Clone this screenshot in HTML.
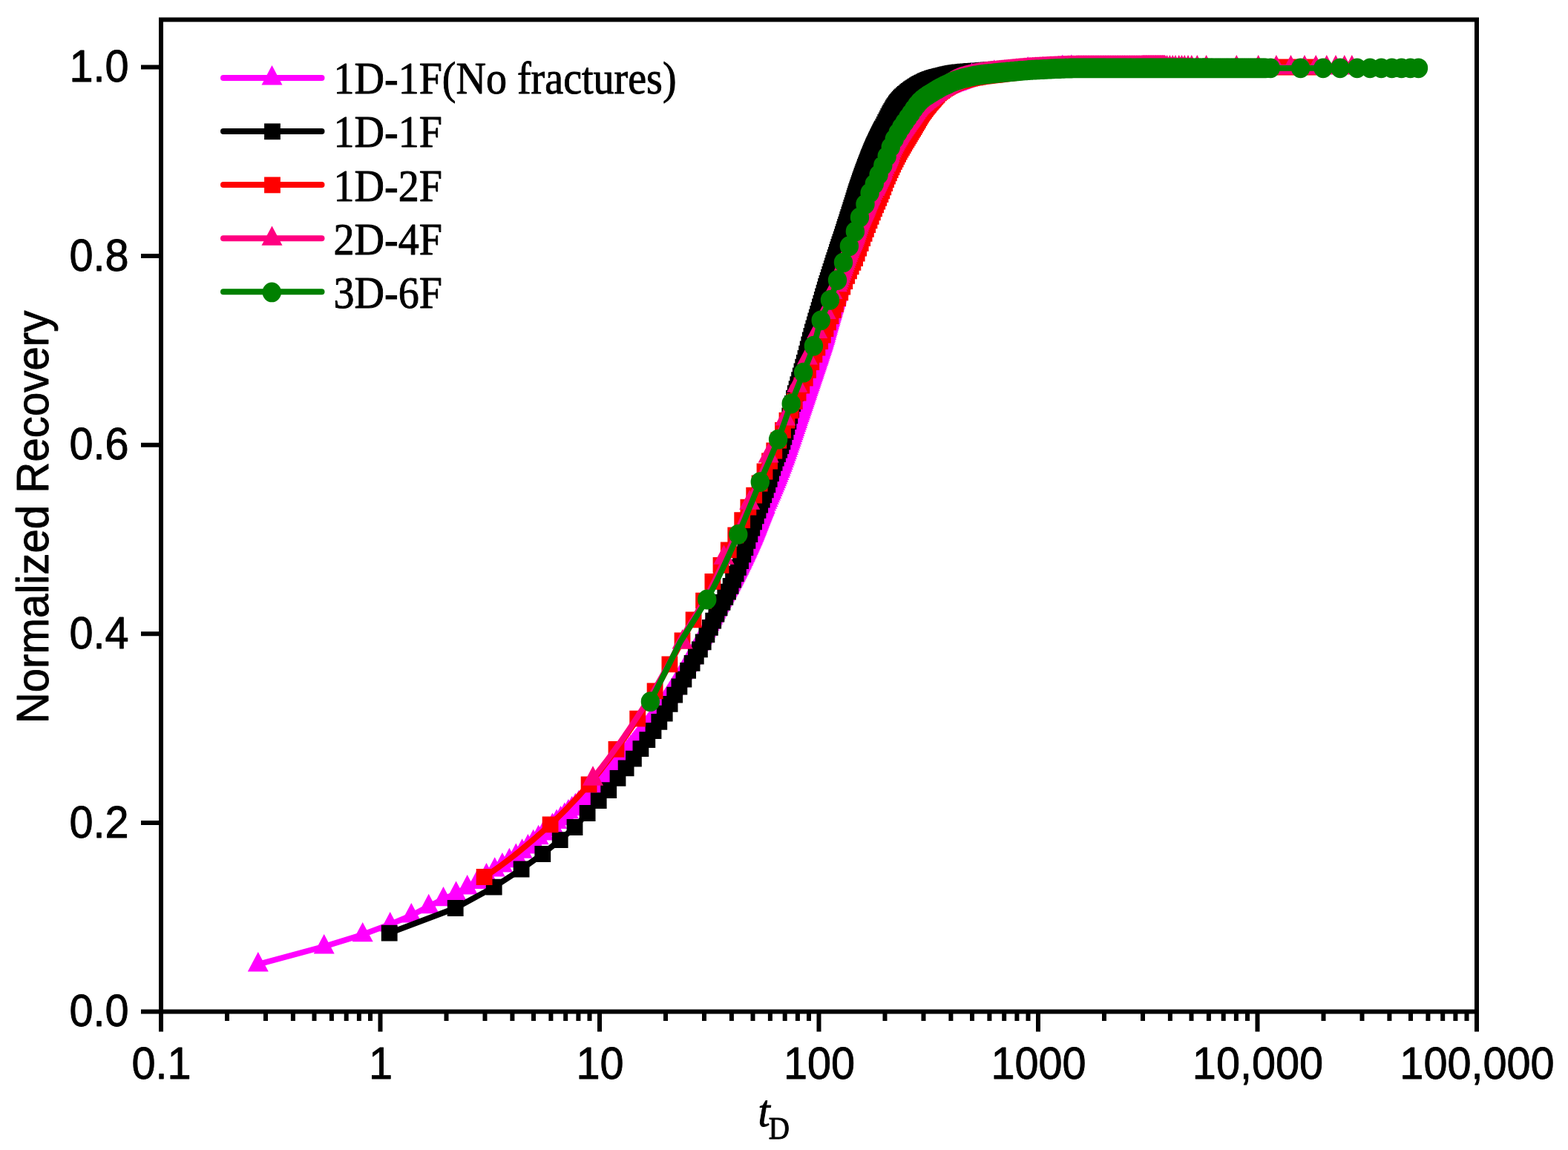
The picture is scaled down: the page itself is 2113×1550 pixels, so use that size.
<!DOCTYPE html>
<html><head><meta charset="utf-8"><title>Normalized Recovery vs tD</title>
<style>
html,body{margin:0;padding:0;background:#fff;}
svg{display:block}
.a{font-family:"Liberation Sans",sans-serif;font-size:61px;fill:#000;stroke:#000;stroke-width:0.9px;stroke-linejoin:round}
.s{font-family:"Liberation Serif",serif;font-size:62px;fill:#000;stroke:#000;stroke-width:1px;stroke-linejoin:round}
</style></head>
<body>
<svg width="2113" height="1550" viewBox="0 0 2113 1550" role="img" aria-label="Normalized Recovery versus dimensionless time tD">
<rect width="2113" height="1550" fill="#fff"/>
<g id="data">
<path d="M347.8 1299.8 436.7 1275.8 488.7 1259.7 525.7 1245.8 554.3 1233.9 577.7 1221.6 597.5 1211.7 614.6 1204.2 629.7 1195.8 643.3 1188.5 655.5 1179.7 666.7 1172 676.9 1165.9 686.4 1159.6 695.3 1153.4 703.6 1147.1 711.4 1140.8 718.7 1134.6 725.6 1128.6 732.2 1122.9 738.5 1117.4 744.4 1112.3 750.1 1107.4 755.6 1102.7 760.8 1098.2 765.9 1093.8 770.7 1089.6 775.4 1085.5 779.9 1081.5 784.2 1077.6 788.5 1073.7 792.5 1069.9 796.5 1066.2 800.3 1062.5 804 1058.8 807.6 1055.2 811.2 1051.5 814.6 1047.9 817.9 1044.4 821.2 1040.8 824.3 1037.3 827.4 1033.8 830.4 1030.3 833.4 1026.9 836.3 1023.5 839.1 1020.2 841.9 1016.8 844.6 1013.6 847.2 1010.3 849.8 1007.1 852.3 1004 854.8 1000.9 857.3 997.8 859.7 994.8 862 991.8 864.3 988.8 866.6 985.9 868.8 983 871 980.1 873.2 977.2 875.3 974.4 877.4 971.6 879.5 968.7 881.5 965.9 883.5 963.2 885.4 960.4 887.4 957.6 889.3 954.9 891.1 952.1 893 949.4 894.8 946.7 896.6 944 898.4 941.2 900.1 938.5 901.8 935.8 903.5 933.1 905.2 930.4 906.9 927.7 908.5 925 910.1 922.3 911.7 919.7 913.3 917 914.8 914.4 916.4 911.7 917.9 909.1 919.4 906.5 920.9 903.9 922.3 901.3 923.8 898.8 925.2 896.2 926.6 893.7 928.1 891.2 929.4 888.7 930.8 886.2 932.2 883.8 933.5 881.3 934.8 878.9 936.2 876.5 937.5 874.2 938.8 871.8 940 869.5 941.3 867.2 942.5 864.9 943.8 862.6 945 860.4 946.2 858.1 947.4 855.9 948.6 853.8 949.8 851.6 951 849.4 952.1 847.2 953.3 845 954.4 842.8 955.6 840.7 956.7 838.5 957.8 836.4 958.9 834.2 960 832.1 961.1 830 962.2 827.9 963.2 825.8 964.3 823.8 965.3 821.7 966.4 819.7 967.4 817.7 968.4 815.7 969.4 813.8 970.4 811.8 971.4 809.9 972.4 808.1 973.4 806.2 974.4 804.4 975.4 802.6 976.3 800.8 977.3 799 978.2 797.3 979.2 795.6 980.1 793.9 981 792.3 981.9 790.6 982.8 788.9 983.8 787.3 984.7 785.6 985.5 783.9 986.4 782.3 987.3 780.6 988.2 778.9 989.1 777.2 989.9 775.5 990.8 773.8 991.6 772.1 992.5 770.4 993.3 768.7 994.2 767 995 765.3 995.8 763.6 996.6 761.9 997.5 760.2 998.3 758.5 999.1 756.8 999.9 755.2 1000.7 753.5 1001.5 751.8 1002.2 750.1 1003 748.4 1003.8 746.8 1004.6 745.1 1005.3 743.5 1006.1 741.8 1006.9 740.2 1007.6 738.5 1008.4 736.9 1009.1 735.2 1009.8 733.6 1010.6 731.9 1011.3 730.2 1012 728.6 1012.8 726.9 1013.5 725.3 1014.2 723.6 1014.9 721.9 1015.6 720.3 1016.3 718.6 1017 716.8 1017.7 715.1 1018.4 713.4 1019.1 711.6 1019.8 709.9 1020.4 708.1 1021.1 706.4 1021.8 704.6 1022.5 702.9 1023.1 701.1 1023.8 699.4 1024.5 697.7 1025.1 696 1025.8 694.3 1026.4 692.7 1027.1 691.1 1027.7 689.5 1028.3 687.9 1029 686.3 1029.6 684.8 1030.2 683.3 1030.9 681.8 1032.1 678.9 1033.4 676.1 1034.6 673.3 1035.8 670.5 1037 667.7 1038.2 665 1039.4 662.3 1040.5 659.5 1041.7 656.7 1042.8 653.9 1044 651.2 1045.1 648.4 1046.2 645.6 1047.3 642.8 1048.4 640.1 1049.5 637.3 1050.6 634.5 1051.6 631.8 1052.7 629 1053.8 626.2 1054.8 623.4 1055.8 620.5 1056.9 617.7 1057.9 614.8 1058.9 611.9 1059.9 609.1 1060.9 606.2 1061.9 603.3 1062.8 600.5 1063.8 597.7 1064.8 594.9 1065.7 592.1 1066.7 589.3 1067.6 586.5 1068.6 583.7 1069.5 580.9 1070.4 578.1 1071.3 575.4 1072.3 572.6 1073.2 569.9 1074.1 567.3 1074.9 564.6 1075.8 562 1076.7 559.4 1077.6 556.8 1078.5 554.3 1079.3 551.7 1080.2 549.2 1081 546.7 1081.9 544.1 1082.7 541.6 1083.5 539.2 1084.4 536.7 1085.2 534.2 1086 531.7 1086.8 529.3 1087.6 526.9 1088.4 524.4 1089.2 522 1090 519.7 1090.8 517.3 1091.6 514.9 1092.4 512.6 1093.1 510.2 1093.9 507.9 1094.7 505.6 1095.4 503.4 1096.2 501.1 1096.9 498.9 1097.7 496.6 1098.4 494.4 1099.2 492.2 1099.9 490 1100.6 487.8 1101.3 485.6 1102.1 483.4 1102.8 481.3 1103.5 479.1 1104.2 476.9 1104.9 474.7 1105.6 472.6 1106.3 470.5 1107 468.4 1107.7 466.2 1108.4 464.1 1109.1 462 1109.7 459.8 1110.4 457.6 1111.1 455.4 1111.8 453.1 1112.4 450.8 1113.1 448.4 1113.7 446 1114.4 443.7 1115 441.3 1115.7 438.9 1116.3 436.6 1117 434.3 1117.6 432 1118.3 429.8 1118.9 427.6 1119.5 425.4 1120.1 423.2 1120.8 421.1 1121.4 418.9 1122 416.8 1122.6 414.7 1123.2 412.6 1123.8 410.5 1124.4 408.4 1125 406.3 1125.6 404.1 1126.2 402 1126.8 399.9 1127.4 397.8 1128 395.8 1128.6 393.8 1129.2 391.8 1129.8 389.9 1130.3 388.1 1130.9 386.4 1131.5 384.7 1132.1 383.1 1132.6 381.5 1133.2 380 1133.8 378.4 1134.6 376.2 1135.4 374.1 1136.3 372 1137.1 370 1137.9 368 1138.7 366 1139.5 364.1 1140.3 362.2 1141.1 360.4 1141.9 358.5 1142.7 356.7 1143.5 354.9 1144.3 353.2 1145 351.5 1145.8 349.9 1146.6 348.3 1147.3 346.8 1148.1 345.2 1148.8 343.6 1149.6 342.1 1150.3 340.5 1151.1 338.9 1151.8 337.2 1152.5 335.5 1153.3 333.7 1154 331.8 1154.7 330 1155.4 328.1 1156.1 326.2 1156.8 324.3 1157.5 322.4 1158.2 320.4 1158.9 318.5 1159.6 316.6 1160.3 314.7 1161 312.8 1161.7 311 1162.3 309.2 1163 307.4 1163.7 305.7 1164.3 304 1165 302.3 1165.7 300.6 1166.3 298.9 1167 297.2 1167.6 295.6 1168.3 293.9 1168.9 292.3 1169.5 290.7 1170.2 289.1 1170.8 287.5 1171.4 286 1172.1 284.4 1172.7 282.9 1173.3 281.3 1173.9 279.8 1174.5 278.3 1175.2 276.8 1176 274.8 1176.8 272.9 1177.6 271 1178.4 269.2 1179.2 267.3 1180 265.5 1180.7 263.7 1181.5 262 1182.3 260.2 1183 258.4 1183.8 256.7 1184.6 254.9 1185.3 253.2 1186.1 251.4 1186.8 249.7 1187.6 247.9 1188.3 246.1 1189 244.3 1189.8 242.4 1190.5 240.5 1191.2 238.6 1191.9 236.6 1192.6 234.7 1193.3 232.9 1194 231 1194.7 229.2 1195.4 227.5 1196.1 225.9 1196.8 224.2 1197.5 222.7 1198.2 221.1 1198.9 219.5 1199.5 218 1200.2 216.5 1200.9 215 1201.5 213.6 1202.4 211.8 1203.2 210 1204 208.3 1204.8 206.6 1205.6 205 1206.4 203.4 1207.2 201.8 1208 200.3 1208.8 198.8 1209.6 197.3 1210.3 195.9 1211.3 194.3 1212.2 192.7 1213.1 191.1 1214 189.6 1214.9 188.1 1215.8 186.7 1216.7 185.3 1217.6 184 1218.6 182.4 1219.6 180.9 1220.6 179.4 1221.6 177.9 1222.6 176.5 1223.6 175 1224.5 173.6 1225.5 172.2 1226.4 170.8 1227.4 169.4 1228.3 168 1229.3 166.6 1230.2 165.2 1231.1 163.7 1232.1 162.3 1233 160.8 1233.9 159.4 1234.8 157.9 1235.7 156.3 1236.5 154.7 1237.4 153.2 1238.3 151.6 1239.2 150.1 1240 148.7 1240.9 147.3 1241.9 145.9 1242.8 144.5 1243.8 143.2 1244.8 141.8 1245.9 140.4 1247 139.1 1248 137.9 1249.1 136.6 1250.3 135.3 1251.4 134.1 1252.5 132.9 1253.7 131.7 1254.9 130.6 1256.1 129.5 1257.4 128.3 1258.7 127.2 1260 126.1 1261.2 125 1262.6 123.9 1263.9 122.9 1265.3 122.1 1266.7 121.3 1268.2 120.5 1269.7 119.7 1271.1 119 1272.7 118.3 1274.2 117.6 1275.7 117 1277.3 116.4 1278.8 115.7 1280.3 115.2 1281.8 114.6 1283.4 114 1285 113.4 1286.5 112.9 1288.1 112.3 1289.6 111.8 1291.2 111.2 1292.7 110.7 1294.2 110.1 1295.8 109.5 1297.3 108.9 1298.8 108.3 1300.4 107.7 1301.9 107.1 1303.4 106.5 1305 106 1306.5 105.5 1308.1 105 1309.7 104.6 1311.3 104.2 1312.9 103.9 1314.5 103.6 1316.2 103.3 1317.8 103 1319.4 102.8 1321 102.5 1322.6 102.3 1324.2 102.1 1325.9 101.8 1327.5 101.6 1329.1 101.4 1330.7 101.2 1332.4 101 1334 100.8 1335.6 100.6 1337.2 100.4 1338.8 100.2 1340.5 100 1342.1 99.8 1343.7 99.7 1345.3 99.5 1346.9 99.4 1348.6 99.2 1350.2 99.1 1351.8 98.9 1353.4 98.8 1355 98.7 1356.7 98.5 1358.3 98.4 1359.9 98.2 1361.5 98.1 1363.1 97.9 1364.8 97.8 1366.4 97.6 1368 97.5 1369.6 97.3 1371.2 97.2 1372.8 97 1374.4 96.9 1376.1 96.7 1377.7 96.6 1379.3 96.4 1380.9 96.3 1382.5 96.1 1384.1 96 1385.8 95.8 1387.4 95.7 1389 95.6 1390.6 95.5 1392.2 95.4 1393.8 95.3 1395.4 95.2 1397 95.1 1398.6 95 1400.3 94.9 1401.9 94.8 1403.5 94.7 1405.1 94.6 1406.7 94.6 1408.4 94.5 1410 94.4 1411.6 94.3 1413.2 94.2 1414.8 94.2 1416.4 94.1 1418 94 1419.6 93.9 1421.3 93.9 1422.9 93.8 1424.5 93.7 1426.1 93.7 1427.7 93.6 1429.3 93.5 1430.9 93.5 1432.6 93.4 1434.2 93.4 1435.8 93.3 1437.4 93.3 1439 93.2 1440.6 93.2 1442.2 93.2 1443.8 93.1 1445.5 93.1 1447.1 93.1 1448.7 93.1 1450.3 93.1" fill="none" stroke="#ff00ff" stroke-width="7.8" stroke-linejoin="round"/>
<path d="M347.8 1283l14 26.4h-28zM436.7 1259l14 26.4h-28zM488.7 1242.9l14 26.4h-28zM525.7 1229l14 26.4h-28zM554.3 1217.1l14 26.4h-28zM577.7 1204.8l14 26.4h-28zM597.5 1194.9l14 26.4h-28zM614.6 1187.4l14 26.4h-28zM629.7 1179l14 26.4h-28zM643.3 1171.7l14 26.4h-28zM655.5 1162.9l14 26.4h-28zM666.7 1155.2l14 26.4h-28zM676.9 1149.1l14 26.4h-28zM686.4 1142.8l14 26.4h-28zM695.3 1136.6l14 26.4h-28zM703.6 1130.3l14 26.4h-28zM711.4 1124l14 26.4h-28zM718.7 1117.8l14 26.4h-28zM725.6 1111.8l14 26.4h-28zM732.2 1106.1l14 26.4h-28zM738.5 1100.6l14 26.4h-28zM744.4 1095.5l14 26.4h-28zM750.1 1090.6l14 26.4h-28zM755.6 1085.9l14 26.4h-28zM760.8 1081.4l14 26.4h-28zM765.9 1077l14 26.4h-28zM770.7 1072.8l14 26.4h-28zM775.4 1068.7l14 26.4h-28zM779.9 1064.7l14 26.4h-28zM784.2 1060.8l14 26.4h-28zM788.5 1056.9l14 26.4h-28zM792.5 1053.1l14 26.4h-28zM796.5 1049.4l14 26.4h-28zM800.3 1045.7l14 26.4h-28zM804 1042l14 26.4h-28zM807.6 1038.4l14 26.4h-28zM811.2 1034.7l14 26.4h-28zM814.6 1031.1l14 26.4h-28zM817.9 1027.6l14 26.4h-28zM821.2 1024l14 26.4h-28zM824.3 1020.5l14 26.4h-28zM827.4 1017l14 26.4h-28zM830.4 1013.5l14 26.4h-28zM833.4 1010.1l14 26.4h-28zM836.3 1006.7l14 26.4h-28zM839.1 1003.4l14 26.4h-28zM841.9 1000l14 26.4h-28zM844.6 996.8l14 26.4h-28zM847.2 993.5l14 26.4h-28zM849.8 990.3l14 26.4h-28zM852.3 987.2l14 26.4h-28zM854.8 984.1l14 26.4h-28zM857.3 981l14 26.4h-28zM859.7 978l14 26.4h-28zM862 975l14 26.4h-28zM864.3 972l14 26.4h-28zM866.6 969.1l14 26.4h-28zM868.8 966.2l14 26.4h-28zM871 963.3l14 26.4h-28zM873.2 960.4l14 26.4h-28zM875.3 957.6l14 26.4h-28zM877.4 954.8l14 26.4h-28zM879.5 951.9l14 26.4h-28zM881.5 949.1l14 26.4h-28zM883.5 946.4l14 26.4h-28zM885.4 943.6l14 26.4h-28zM887.4 940.8l14 26.4h-28zM889.3 938.1l14 26.4h-28zM891.1 935.3l14 26.4h-28zM893 932.6l14 26.4h-28zM894.8 929.9l14 26.4h-28zM896.6 927.2l14 26.4h-28zM898.4 924.4l14 26.4h-28zM900.1 921.7l14 26.4h-28zM901.8 919l14 26.4h-28zM903.5 916.3l14 26.4h-28zM905.2 913.6l14 26.4h-28zM906.9 910.9l14 26.4h-28zM908.5 908.2l14 26.4h-28zM910.1 905.5l14 26.4h-28zM911.7 902.9l14 26.4h-28zM913.3 900.2l14 26.4h-28zM914.8 897.6l14 26.4h-28zM916.4 894.9l14 26.4h-28zM917.9 892.3l14 26.4h-28zM919.4 889.7l14 26.4h-28zM920.9 887.1l14 26.4h-28zM922.3 884.5l14 26.4h-28zM923.8 882l14 26.4h-28zM925.2 879.4l14 26.4h-28zM926.6 876.9l14 26.4h-28zM928.1 874.4l14 26.4h-28zM929.4 871.9l14 26.4h-28zM930.8 869.4l14 26.4h-28zM932.2 867l14 26.4h-28zM933.5 864.5l14 26.4h-28zM934.8 862.1l14 26.4h-28zM936.2 859.7l14 26.4h-28zM937.5 857.4l14 26.4h-28zM938.8 855l14 26.4h-28zM940 852.7l14 26.4h-28zM941.3 850.4l14 26.4h-28zM942.5 848.1l14 26.4h-28zM943.8 845.8l14 26.4h-28zM945 843.6l14 26.4h-28zM946.2 841.3l14 26.4h-28zM947.4 839.1l14 26.4h-28zM948.6 837l14 26.4h-28zM949.8 834.8l14 26.4h-28zM951 832.6l14 26.4h-28zM952.1 830.4l14 26.4h-28zM953.3 828.2l14 26.4h-28zM954.4 826l14 26.4h-28zM955.6 823.9l14 26.4h-28zM956.7 821.7l14 26.4h-28zM957.8 819.6l14 26.4h-28zM958.9 817.4l14 26.4h-28zM960 815.3l14 26.4h-28zM961.1 813.2l14 26.4h-28zM962.2 811.1l14 26.4h-28zM963.2 809l14 26.4h-28zM964.3 807l14 26.4h-28zM965.3 804.9l14 26.4h-28zM966.4 802.9l14 26.4h-28zM967.4 800.9l14 26.4h-28zM968.4 798.9l14 26.4h-28zM969.4 797l14 26.4h-28zM970.4 795l14 26.4h-28zM971.4 793.1l14 26.4h-28zM972.4 791.3l14 26.4h-28zM973.4 789.4l14 26.4h-28zM974.4 787.6l14 26.4h-28zM975.4 785.8l14 26.4h-28zM976.3 784l14 26.4h-28zM977.3 782.2l14 26.4h-28zM978.2 780.5l14 26.4h-28zM979.2 778.8l14 26.4h-28zM980.1 777.1l14 26.4h-28zM981 775.5l14 26.4h-28zM981.9 773.8l14 26.4h-28zM982.8 772.1l14 26.4h-28zM983.8 770.5l14 26.4h-28zM984.7 768.8l14 26.4h-28zM985.5 767.1l14 26.4h-28zM986.4 765.5l14 26.4h-28zM987.3 763.8l14 26.4h-28zM988.2 762.1l14 26.4h-28zM989.1 760.4l14 26.4h-28zM989.9 758.7l14 26.4h-28zM990.8 757l14 26.4h-28zM991.6 755.3l14 26.4h-28zM992.5 753.6l14 26.4h-28zM993.3 751.9l14 26.4h-28zM994.2 750.2l14 26.4h-28zM995 748.5l14 26.4h-28zM995.8 746.8l14 26.4h-28zM996.6 745.1l14 26.4h-28zM997.5 743.4l14 26.4h-28zM998.3 741.7l14 26.4h-28zM999.1 740l14 26.4h-28zM999.9 738.4l14 26.4h-28zM1000.7 736.7l14 26.4h-28zM1001.5 735l14 26.4h-28zM1002.2 733.3l14 26.4h-28zM1003 731.6l14 26.4h-28zM1003.8 730l14 26.4h-28zM1004.6 728.3l14 26.4h-28zM1005.3 726.7l14 26.4h-28zM1006.1 725l14 26.4h-28zM1006.9 723.4l14 26.4h-28zM1007.6 721.7l14 26.4h-28zM1008.4 720.1l14 26.4h-28zM1009.1 718.4l14 26.4h-28zM1009.8 716.8l14 26.4h-28zM1010.6 715.1l14 26.4h-28zM1011.3 713.4l14 26.4h-28zM1012 711.8l14 26.4h-28zM1012.8 710.1l14 26.4h-28zM1013.5 708.5l14 26.4h-28zM1014.2 706.8l14 26.4h-28zM1014.9 705.1l14 26.4h-28zM1015.6 703.5l14 26.4h-28zM1016.3 701.8l14 26.4h-28zM1017 700l14 26.4h-28zM1017.7 698.3l14 26.4h-28zM1018.4 696.6l14 26.4h-28zM1019.1 694.8l14 26.4h-28zM1019.8 693.1l14 26.4h-28zM1020.4 691.3l14 26.4h-28zM1021.1 689.6l14 26.4h-28zM1021.8 687.8l14 26.4h-28zM1022.5 686.1l14 26.4h-28zM1023.1 684.3l14 26.4h-28zM1023.8 682.6l14 26.4h-28zM1024.5 680.9l14 26.4h-28zM1025.1 679.2l14 26.4h-28zM1025.8 677.5l14 26.4h-28zM1026.4 675.9l14 26.4h-28zM1027.1 674.3l14 26.4h-28zM1027.7 672.7l14 26.4h-28zM1028.3 671.1l14 26.4h-28zM1029 669.5l14 26.4h-28zM1029.6 668l14 26.4h-28zM1030.2 666.5l14 26.4h-28zM1030.9 665l14 26.4h-28zM1032.1 662.1l14 26.4h-28zM1033.4 659.3l14 26.4h-28zM1034.6 656.5l14 26.4h-28zM1035.8 653.7l14 26.4h-28zM1037 650.9l14 26.4h-28zM1038.2 648.2l14 26.4h-28zM1039.4 645.5l14 26.4h-28zM1040.5 642.7l14 26.4h-28zM1041.7 639.9l14 26.4h-28zM1042.8 637.1l14 26.4h-28zM1044 634.4l14 26.4h-28zM1045.1 631.6l14 26.4h-28zM1046.2 628.8l14 26.4h-28zM1047.3 626l14 26.4h-28zM1048.4 623.3l14 26.4h-28zM1049.5 620.5l14 26.4h-28zM1050.6 617.7l14 26.4h-28zM1051.6 615l14 26.4h-28zM1052.7 612.2l14 26.4h-28zM1053.8 609.4l14 26.4h-28zM1054.8 606.6l14 26.4h-28zM1055.8 603.7l14 26.4h-28zM1056.9 600.9l14 26.4h-28zM1057.9 598l14 26.4h-28zM1058.9 595.1l14 26.4h-28zM1059.9 592.3l14 26.4h-28zM1060.9 589.4l14 26.4h-28zM1061.9 586.5l14 26.4h-28zM1062.8 583.7l14 26.4h-28zM1063.8 580.9l14 26.4h-28zM1064.8 578.1l14 26.4h-28zM1065.7 575.3l14 26.4h-28zM1066.7 572.5l14 26.4h-28zM1067.6 569.7l14 26.4h-28zM1068.6 566.9l14 26.4h-28zM1069.5 564.1l14 26.4h-28zM1070.4 561.3l14 26.4h-28zM1071.3 558.6l14 26.4h-28zM1072.3 555.8l14 26.4h-28zM1073.2 553.1l14 26.4h-28zM1074.1 550.5l14 26.4h-28zM1074.9 547.8l14 26.4h-28zM1075.8 545.2l14 26.4h-28zM1076.7 542.6l14 26.4h-28zM1077.6 540l14 26.4h-28zM1078.5 537.5l14 26.4h-28zM1079.3 534.9l14 26.4h-28zM1080.2 532.4l14 26.4h-28zM1081 529.9l14 26.4h-28zM1081.9 527.3l14 26.4h-28zM1082.7 524.8l14 26.4h-28zM1083.5 522.4l14 26.4h-28zM1084.4 519.9l14 26.4h-28zM1085.2 517.4l14 26.4h-28zM1086 514.9l14 26.4h-28zM1086.8 512.5l14 26.4h-28zM1087.6 510.1l14 26.4h-28zM1088.4 507.6l14 26.4h-28zM1089.2 505.2l14 26.4h-28zM1090 502.9l14 26.4h-28zM1090.8 500.5l14 26.4h-28zM1091.6 498.1l14 26.4h-28zM1092.4 495.8l14 26.4h-28zM1093.1 493.4l14 26.4h-28zM1093.9 491.1l14 26.4h-28zM1094.7 488.8l14 26.4h-28zM1095.4 486.6l14 26.4h-28zM1096.2 484.3l14 26.4h-28zM1096.9 482.1l14 26.4h-28zM1097.7 479.8l14 26.4h-28zM1098.4 477.6l14 26.4h-28zM1099.2 475.4l14 26.4h-28zM1099.9 473.2l14 26.4h-28zM1100.6 471l14 26.4h-28zM1101.3 468.8l14 26.4h-28zM1102.1 466.6l14 26.4h-28zM1102.8 464.5l14 26.4h-28zM1103.5 462.3l14 26.4h-28zM1104.2 460.1l14 26.4h-28zM1104.9 457.9l14 26.4h-28zM1105.6 455.8l14 26.4h-28zM1106.3 453.7l14 26.4h-28zM1107 451.6l14 26.4h-28zM1107.7 449.4l14 26.4h-28zM1108.4 447.3l14 26.4h-28zM1109.1 445.2l14 26.4h-28zM1109.7 443l14 26.4h-28zM1110.4 440.8l14 26.4h-28zM1111.1 438.6l14 26.4h-28zM1111.8 436.3l14 26.4h-28zM1112.4 434l14 26.4h-28zM1113.1 431.6l14 26.4h-28zM1113.7 429.2l14 26.4h-28zM1114.4 426.9l14 26.4h-28zM1115 424.5l14 26.4h-28zM1115.7 422.1l14 26.4h-28zM1116.3 419.8l14 26.4h-28zM1117 417.5l14 26.4h-28zM1117.6 415.2l14 26.4h-28zM1118.3 413l14 26.4h-28zM1118.9 410.8l14 26.4h-28zM1119.5 408.6l14 26.4h-28zM1120.1 406.4l14 26.4h-28zM1120.8 404.3l14 26.4h-28zM1121.4 402.1l14 26.4h-28zM1122 400l14 26.4h-28zM1122.6 397.9l14 26.4h-28zM1123.2 395.8l14 26.4h-28zM1123.8 393.7l14 26.4h-28zM1124.4 391.6l14 26.4h-28zM1125 389.5l14 26.4h-28zM1125.6 387.3l14 26.4h-28zM1126.2 385.2l14 26.4h-28zM1126.8 383.1l14 26.4h-28zM1127.4 381l14 26.4h-28zM1128 379l14 26.4h-28zM1128.6 377l14 26.4h-28zM1129.2 375l14 26.4h-28zM1129.8 373.1l14 26.4h-28zM1130.3 371.3l14 26.4h-28zM1130.9 369.6l14 26.4h-28zM1131.5 367.9l14 26.4h-28zM1132.1 366.3l14 26.4h-28zM1132.6 364.7l14 26.4h-28zM1133.2 363.2l14 26.4h-28zM1133.8 361.6l14 26.4h-28zM1134.6 359.4l14 26.4h-28zM1135.4 357.3l14 26.4h-28zM1136.3 355.2l14 26.4h-28zM1137.1 353.2l14 26.4h-28zM1137.9 351.2l14 26.4h-28zM1138.7 349.2l14 26.4h-28zM1139.5 347.3l14 26.4h-28zM1140.3 345.4l14 26.4h-28zM1141.1 343.6l14 26.4h-28zM1141.9 341.7l14 26.4h-28zM1142.7 339.9l14 26.4h-28zM1143.5 338.1l14 26.4h-28zM1144.3 336.4l14 26.4h-28zM1145 334.7l14 26.4h-28zM1145.8 333.1l14 26.4h-28zM1146.6 331.5l14 26.4h-28zM1147.3 330l14 26.4h-28zM1148.1 328.4l14 26.4h-28zM1148.8 326.8l14 26.4h-28zM1149.6 325.3l14 26.4h-28zM1150.3 323.7l14 26.4h-28zM1151.1 322.1l14 26.4h-28zM1151.8 320.4l14 26.4h-28zM1152.5 318.7l14 26.4h-28zM1153.3 316.9l14 26.4h-28zM1154 315l14 26.4h-28zM1154.7 313.2l14 26.4h-28zM1155.4 311.3l14 26.4h-28zM1156.1 309.4l14 26.4h-28zM1156.8 307.5l14 26.4h-28zM1157.5 305.6l14 26.4h-28zM1158.2 303.6l14 26.4h-28zM1158.9 301.7l14 26.4h-28zM1159.6 299.8l14 26.4h-28zM1160.3 297.9l14 26.4h-28zM1161 296l14 26.4h-28zM1161.7 294.2l14 26.4h-28zM1162.3 292.4l14 26.4h-28zM1163 290.6l14 26.4h-28zM1163.7 288.9l14 26.4h-28zM1164.3 287.2l14 26.4h-28zM1165 285.5l14 26.4h-28zM1165.7 283.8l14 26.4h-28zM1166.3 282.1l14 26.4h-28zM1167 280.4l14 26.4h-28zM1167.6 278.8l14 26.4h-28zM1168.3 277.1l14 26.4h-28zM1168.9 275.5l14 26.4h-28zM1169.5 273.9l14 26.4h-28zM1170.2 272.3l14 26.4h-28zM1170.8 270.7l14 26.4h-28zM1171.4 269.2l14 26.4h-28zM1172.1 267.6l14 26.4h-28zM1172.7 266.1l14 26.4h-28zM1173.3 264.5l14 26.4h-28zM1173.9 263l14 26.4h-28zM1174.5 261.5l14 26.4h-28zM1175.2 260l14 26.4h-28zM1176 258l14 26.4h-28zM1176.8 256.1l14 26.4h-28zM1177.6 254.2l14 26.4h-28zM1178.4 252.4l14 26.4h-28zM1179.2 250.5l14 26.4h-28zM1180 248.7l14 26.4h-28zM1180.7 246.9l14 26.4h-28zM1181.5 245.2l14 26.4h-28zM1182.3 243.4l14 26.4h-28zM1183 241.6l14 26.4h-28zM1183.8 239.9l14 26.4h-28zM1184.6 238.1l14 26.4h-28zM1185.3 236.4l14 26.4h-28zM1186.1 234.6l14 26.4h-28zM1186.8 232.9l14 26.4h-28zM1187.6 231.1l14 26.4h-28zM1188.3 229.3l14 26.4h-28zM1189 227.5l14 26.4h-28zM1189.8 225.6l14 26.4h-28zM1190.5 223.7l14 26.4h-28zM1191.2 221.8l14 26.4h-28zM1191.9 219.8l14 26.4h-28zM1192.6 217.9l14 26.4h-28zM1193.3 216.1l14 26.4h-28zM1194 214.2l14 26.4h-28zM1194.7 212.4l14 26.4h-28zM1195.4 210.7l14 26.4h-28zM1196.1 209.1l14 26.4h-28zM1196.8 207.4l14 26.4h-28zM1197.5 205.9l14 26.4h-28zM1198.2 204.3l14 26.4h-28zM1198.9 202.7l14 26.4h-28zM1199.5 201.2l14 26.4h-28zM1200.2 199.7l14 26.4h-28zM1200.9 198.2l14 26.4h-28zM1201.5 196.8l14 26.4h-28zM1202.4 195l14 26.4h-28zM1203.2 193.2l14 26.4h-28zM1204 191.5l14 26.4h-28zM1204.8 189.8l14 26.4h-28zM1205.6 188.2l14 26.4h-28zM1206.4 186.6l14 26.4h-28zM1207.2 185l14 26.4h-28zM1208 183.5l14 26.4h-28zM1208.8 182l14 26.4h-28zM1209.6 180.5l14 26.4h-28zM1210.3 179.1l14 26.4h-28zM1211.3 177.5l14 26.4h-28zM1212.2 175.9l14 26.4h-28zM1213.1 174.3l14 26.4h-28zM1214 172.8l14 26.4h-28zM1214.9 171.3l14 26.4h-28zM1215.8 169.9l14 26.4h-28zM1216.7 168.5l14 26.4h-28zM1217.6 167.2l14 26.4h-28zM1218.6 165.6l14 26.4h-28zM1219.6 164.1l14 26.4h-28zM1220.6 162.6l14 26.4h-28zM1221.6 161.1l14 26.4h-28zM1222.6 159.7l14 26.4h-28zM1223.6 158.2l14 26.4h-28zM1224.5 156.8l14 26.4h-28zM1225.5 155.4l14 26.4h-28zM1226.4 154l14 26.4h-28zM1227.4 152.6l14 26.4h-28zM1228.3 151.2l14 26.4h-28zM1229.3 149.8l14 26.4h-28zM1230.2 148.4l14 26.4h-28zM1231.1 146.9l14 26.4h-28zM1232.1 145.5l14 26.4h-28zM1233 144l14 26.4h-28zM1233.9 142.6l14 26.4h-28zM1234.8 141.1l14 26.4h-28zM1235.7 139.5l14 26.4h-28zM1236.5 137.9l14 26.4h-28zM1237.4 136.4l14 26.4h-28zM1238.3 134.8l14 26.4h-28zM1239.2 133.3l14 26.4h-28zM1240 131.9l14 26.4h-28zM1240.9 130.5l14 26.4h-28zM1241.9 129.1l14 26.4h-28zM1242.8 127.7l14 26.4h-28zM1243.8 126.4l14 26.4h-28zM1244.8 125l14 26.4h-28zM1245.9 123.6l14 26.4h-28zM1247 122.3l14 26.4h-28zM1248 121.1l14 26.4h-28zM1249.1 119.8l14 26.4h-28zM1250.3 118.5l14 26.4h-28zM1251.4 117.3l14 26.4h-28zM1252.5 116.1l14 26.4h-28zM1253.7 114.9l14 26.4h-28zM1254.9 113.8l14 26.4h-28zM1256.1 112.7l14 26.4h-28zM1257.4 111.5l14 26.4h-28zM1258.7 110.4l14 26.4h-28zM1260 109.3l14 26.4h-28zM1261.2 108.2l14 26.4h-28zM1262.6 107.1l14 26.4h-28zM1263.9 106.1l14 26.4h-28zM1265.3 105.3l14 26.4h-28zM1266.7 104.5l14 26.4h-28zM1268.2 103.7l14 26.4h-28zM1269.7 102.9l14 26.4h-28zM1271.1 102.2l14 26.4h-28zM1272.7 101.5l14 26.4h-28zM1274.2 100.8l14 26.4h-28zM1275.7 100.2l14 26.4h-28zM1277.3 99.6l14 26.4h-28zM1278.8 98.9l14 26.4h-28zM1280.3 98.4l14 26.4h-28zM1281.8 97.8l14 26.4h-28zM1283.4 97.2l14 26.4h-28zM1285 96.6l14 26.4h-28zM1286.5 96.1l14 26.4h-28zM1288.1 95.5l14 26.4h-28zM1289.6 95l14 26.4h-28zM1291.2 94.4l14 26.4h-28zM1292.7 93.9l14 26.4h-28zM1294.2 93.3l14 26.4h-28zM1295.8 92.7l14 26.4h-28zM1297.3 92.1l14 26.4h-28zM1298.8 91.5l14 26.4h-28zM1300.4 90.9l14 26.4h-28zM1301.9 90.3l14 26.4h-28zM1303.4 89.7l14 26.4h-28zM1305 89.2l14 26.4h-28zM1306.5 88.7l14 26.4h-28zM1308.1 88.2l14 26.4h-28zM1309.7 87.8l14 26.4h-28zM1311.3 87.4l14 26.4h-28zM1312.9 87.1l14 26.4h-28zM1314.5 86.8l14 26.4h-28zM1316.2 86.5l14 26.4h-28zM1317.8 86.2l14 26.4h-28zM1319.4 86l14 26.4h-28zM1321 85.7l14 26.4h-28zM1322.6 85.5l14 26.4h-28zM1324.2 85.3l14 26.4h-28zM1325.9 85l14 26.4h-28zM1327.5 84.8l14 26.4h-28zM1329.1 84.6l14 26.4h-28zM1330.7 84.4l14 26.4h-28zM1332.4 84.2l14 26.4h-28zM1334 84l14 26.4h-28zM1335.6 83.8l14 26.4h-28zM1337.2 83.6l14 26.4h-28zM1338.8 83.4l14 26.4h-28zM1340.5 83.2l14 26.4h-28zM1342.1 83l14 26.4h-28zM1343.7 82.9l14 26.4h-28zM1345.3 82.7l14 26.4h-28zM1346.9 82.6l14 26.4h-28zM1348.6 82.4l14 26.4h-28zM1350.2 82.3l14 26.4h-28zM1351.8 82.1l14 26.4h-28zM1353.4 82l14 26.4h-28zM1355 81.9l14 26.4h-28zM1356.7 81.7l14 26.4h-28zM1358.3 81.6l14 26.4h-28zM1359.9 81.4l14 26.4h-28zM1361.5 81.3l14 26.4h-28zM1363.1 81.1l14 26.4h-28zM1364.8 81l14 26.4h-28zM1366.4 80.8l14 26.4h-28zM1368 80.7l14 26.4h-28zM1369.6 80.5l14 26.4h-28zM1371.2 80.4l14 26.4h-28zM1372.8 80.2l14 26.4h-28zM1374.4 80.1l14 26.4h-28zM1376.1 79.9l14 26.4h-28zM1377.7 79.8l14 26.4h-28zM1379.3 79.6l14 26.4h-28zM1380.9 79.5l14 26.4h-28zM1382.5 79.3l14 26.4h-28zM1384.1 79.2l14 26.4h-28zM1385.8 79l14 26.4h-28zM1387.4 78.9l14 26.4h-28zM1389 78.8l14 26.4h-28zM1390.6 78.7l14 26.4h-28zM1392.2 78.6l14 26.4h-28zM1393.8 78.5l14 26.4h-28zM1395.4 78.4l14 26.4h-28zM1397 78.3l14 26.4h-28zM1398.6 78.2l14 26.4h-28zM1400.3 78.1l14 26.4h-28zM1401.9 78l14 26.4h-28zM1403.5 77.9l14 26.4h-28zM1405.1 77.8l14 26.4h-28zM1406.7 77.8l14 26.4h-28zM1408.4 77.7l14 26.4h-28zM1410 77.6l14 26.4h-28zM1411.6 77.5l14 26.4h-28zM1413.2 77.4l14 26.4h-28zM1414.8 77.4l14 26.4h-28zM1416.4 77.3l14 26.4h-28zM1418 77.2l14 26.4h-28zM1419.6 77.1l14 26.4h-28zM1421.3 77.1l14 26.4h-28zM1422.9 77l14 26.4h-28zM1424.5 76.9l14 26.4h-28zM1426.1 76.9l14 26.4h-28zM1427.7 76.8l14 26.4h-28zM1429.3 76.7l14 26.4h-28zM1430.9 76.7l14 26.4h-28zM1432.6 76.6l14 26.4h-28zM1434.2 76.6l14 26.4h-28zM1435.8 76.5l14 26.4h-28zM1437.4 76.5l14 26.4h-28zM1439 76.4l14 26.4h-28zM1440.6 76.4l14 26.4h-28zM1442.2 76.4l14 26.4h-28zM1443.8 76.3l14 26.4h-28zM1445.5 76.3l14 26.4h-28zM1447.1 76.3l14 26.4h-28zM1448.7 76.3l14 26.4h-28zM1450.3 76.3l14 26.4h-28z" fill="#ff00ff"/>
<path d="M524.7 1257.7 613.7 1224 665.7 1195.6 702.6 1171.5 731.3 1151 754.7 1132.1 774.5 1115 791.6 1096 806.7 1079.2 820.2 1065.2 832.5 1048.9 843.6 1035.3 853.9 1022.6 863.4 1009.1 872.3 997.1 880.5 985 888.3 972.9 895.7 961.6 902.6 948.8 909.2 936.7 915.4 925.5 921.4 915.7 927.1 903.8 932.6 893.8 937.8 884.6 942.9 875.3 947.7 865.3 952.4 855.3 956.9 845.8 961.2 836.6 965.4 827.7 969.5 819.4 973.5 811.9 977.3 804.9 981 797.7 984.6 789.8 988.1 781.6 991.6 773.3 994.9 764.8 998.1 756.1 1001.3 747.3 1004.4 738.1 1007.4 728.9 1010.4 720.1 1013.3 711.6 1016.1 703.4 1018.8 695.4 1021.5 687.8 1024.2 680.5 1026.8 673.7 1029.3 667.1 1031.8 660.4 1034.3 653.4 1036.7 645.8 1039 638.1 1041.3 630.6 1043.6 623.8 1045.8 617.7 1048 612.1 1050.2 606.7 1052.3 601.2 1054.4 595.3 1056.4 588.9 1058.5 582.2 1060.4 575.2 1062.4 568 1064.3 560.3 1066.2 552 1068.1 544 1070 536.7 1071.8 530.2 1073.6 524.2 1075.3 518.2 1077.1 512.2 1078.8 506.3 1080.5 500.5 1082.2 494.6 1083.8 488.8 1085.5 482.8 1087.1 476.7 1088.7 470.5 1090.3 464.5 1091.8 458.5 1093.4 452.8 1094.9 447.4 1096.4 442.3 1097.9 437.3 1099.3 432.5 1100.8 427.7 1102.2 423 1103.6 418.2 1105 413.4 1106.4 408.6 1107.8 403.9 1109.1 399.3 1110.5 394.7 1111.8 390.3 1113.1 386 1114.4 381.8 1115.7 377.8 1117 373.8 1118.3 369.8 1119.5 365.9 1120.8 362.1 1122 358.3 1123.2 354.5 1124.4 350.9 1125.6 347.2 1126.8 343.6 1128 340 1129.1 336.5 1130.3 333 1131.4 329.5 1132.5 326.1 1133.7 322.7 1134.8 319.3 1135.9 315.9 1137 312.6 1138.1 309.2 1139.1 305.9 1140.2 302.6 1141.3 299.3 1142.3 296 1143.3 292.8 1144.4 289.5 1145.4 286.3 1146.4 283.1 1147.4 279.9 1148.4 276.8 1149.4 273.6 1150.4 270.4 1151.4 267.2 1152.3 264.1 1153.3 261.1 1154.2 258.2 1155.2 255.4 1156.1 252.6 1157.1 249.9 1158 247.2 1158.9 244.5 1159.8 241.9 1160.7 239.3 1161.6 236.8 1162.5 234.4 1163.4 232 1164.3 229.6 1165.2 227.3 1166 225 1166.9 222.7 1167.8 220.5 1168.6 218.3 1169.5 216.2 1170.3 214 1171.1 212 1172 209.9 1172.8 207.9 1173.6 205.9 1174.4 204 1175.2 202.1 1176 200.3 1176.8 198.5 1177.6 196.7 1178.4 195 1179.2 193.3 1180 191.6 1180.8 190 1181.5 188.4 1182.3 186.8 1183.1 185.2 1183.8 183.7 1184.6 182.2 1185.3 180.7 1186.1 179.2 1186.8 177.7 1187.5 176.3 1188.3 174.8 1189 173.4 1190.4 170.6 1191.9 167.8 1193.3 165 1194.7 162.3 1196.1 159.6 1197.4 157 1198.8 154.5 1200.1 152.1 1201.4 149.8 1202.7 147.6 1204 145.5 1205.3 143.5 1206.6 141.6 1207.9 139.7 1209.1 138.1 1210.3 136.6 1211.6 135.1 1212.8 133.8 1214 132.5 1215.2 131.3 1216.3 130.2 1218.1 128.5 1219.8 127 1221.5 125.6 1223.2 124.2 1224.8 122.9 1226.5 121.7 1228.1 120.5 1229.7 119.4 1231.3 118.3 1232.8 117.3 1234.3 116.3 1235.9 115.4 1237.4 114.5 1238.8 113.7 1240.3 112.8 1241.8 112.1 1243.2 111.3 1245.1 110.4 1246.9 109.5 1248.8 108.7 1250.6 107.9 1252.4 107.2 1254.1 106.6 1255.9 106 1257.6 105.5 1259.3 105 1260.9 104.5 1262.6 104 1264.2 103.6 1265.8 103.2 1267.4 102.7 1269 102.4 1270.9 101.9 1272.8 101.4 1274.7 101 1276.5 100.5 1278.3 100.1 1280.1 99.7 1281.9 99.4 1283.6 99 1285.4 98.7 1287.1 98.5 1288.7 98.2 1290.4 98 1292 97.7 1293.6 97.5 1295.2 97.3 1297.1 97.1 1299 96.9 1300.8 96.7 1302.6 96.6 1304.4 96.4 1306.2 96.3 1307.9 96.1 1309.6 96 1311.3 95.9 1313 95.8 1314.6 95.7 1316.2 95.6 1317.8 95.5 1319.7 95.4 1321.5 95.3 1323.3 95.1 1325.1 95 1326.8 94.9 1328.5 94.7 1330.2 94.6 1331.9 94.5 1333.6 94.3 1335.2 94.2 1336.8 94.1 1338.6 94 1340.4 93.8 1342.2 93.7 1344 93.6 1345.7 93.5 1347.4 93.4 1349.1 93.3 1350.7 93.2 1352.3 93.1 1354 93 1355.7 92.9 1357.5 92.8 1359.3 92.8 1361 92.7 1362.7 92.6 1364.4 92.5 1366 92.5 1367.6 92.4 1369.3 92.3 1371 92.3 1372.8 92.2 1374.5 92.1 1376.2 92.1 1377.9 92 1379.5 91.9 1381.1 91.9 1382.8 91.8 1384.5 91.8 1386.2 91.7 1387.9 91.7 1389.6 91.6 1391.3 91.6 1392.9 91.6 1394.5 91.6 1396.3 91.5 1398 91.5 1399.7 91.5 1401.4 91.5 1403 91.5 1404.6 91.5 1406.3 91.5 1408 91.5 1409.7 91.5 1411.4 91.4 1413 91.4 1414.7 91.4 1416.3 91.4 1418 91.4 1419.7 91.4 1421.3 91.4 1423 91.4 1424.6 91.4 1426.2 91.4 1427.9 91.4 1429.6 91.4 1431.3 91.4 1432.9 91.3 1434.5 91.3 1436.2 91.3 1437.9 91.3 1439.6 91.3 1441.2 91.3 1442.8 91.3 1444.5 91.3 1446.2 91.3 1447.8 91.3 1449.5 91.3 1451.1 91.3 1452.8 91.3 1454.4 91.3 1456.1 91.3 1457.7 91.3 1459.4 91.3 1461 91.2 1462.7 91.2 1464.3 91.2 1465.9 91.2 1467.6 91.2 1469.2 91.2 1470.8 91.2 1472.4 91.2 1474.1 91.2 1475.7 91.2 1477.4 91.2 1479 91.2 1480.7 91.2 1482.3 91.2 1483.9 91.2 1485.6 91.2 1487.2 91.2 1488.9 91.2 1490.5 91.2 1492.1 91.2 1493.7 91.2 1495.3 91.2 1497 91.2 1498.6 91.2 1500.3 91.2 1501.9 91.2 1503.5 91.2 1505.2 91.2 1506.8 91.2 1508.4 91.2 1510.1 91.2 1511.7 91.1 1513.3 91.1 1515 91.1" fill="none" stroke="#000000" stroke-width="7.8" stroke-linejoin="round"/>
<path d="M513.8 1246.8h21.8v21.8h-21.8zM602.8 1213.1h21.8v21.8h-21.8zM654.8 1184.7h21.8v21.8h-21.8zM691.7 1160.6h21.8v21.8h-21.8zM720.4 1140.1h21.8v21.8h-21.8zM743.8 1121.2h21.8v21.8h-21.8zM763.6 1104.1h21.8v21.8h-21.8zM780.7 1085.1h21.8v21.8h-21.8zM795.8 1068.3h21.8v21.8h-21.8zM809.3 1054.3h21.8v21.8h-21.8zM821.6 1038h21.8v21.8h-21.8zM832.7 1024.4h21.8v21.8h-21.8zM843 1011.7h21.8v21.8h-21.8zM852.5 998.2h21.8v21.8h-21.8zM861.4 986.2h21.8v21.8h-21.8zM869.6 974.1h21.8v21.8h-21.8zM877.4 962h21.8v21.8h-21.8zM884.8 950.7h21.8v21.8h-21.8zM891.7 937.9h21.8v21.8h-21.8zM898.3 925.8h21.8v21.8h-21.8zM904.5 914.6h21.8v21.8h-21.8zM910.5 904.8h21.8v21.8h-21.8zM916.2 892.9h21.8v21.8h-21.8zM921.7 882.9h21.8v21.8h-21.8zM926.9 873.7h21.8v21.8h-21.8zM932 864.4h21.8v21.8h-21.8zM936.8 854.4h21.8v21.8h-21.8zM941.5 844.4h21.8v21.8h-21.8zM946 834.9h21.8v21.8h-21.8zM950.3 825.7h21.8v21.8h-21.8zM954.5 816.8h21.8v21.8h-21.8zM958.6 808.5h21.8v21.8h-21.8zM962.6 801h21.8v21.8h-21.8zM966.4 794h21.8v21.8h-21.8zM970.1 786.8h21.8v21.8h-21.8zM973.7 778.9h21.8v21.8h-21.8zM977.2 770.7h21.8v21.8h-21.8zM980.7 762.4h21.8v21.8h-21.8zM984 753.9h21.8v21.8h-21.8zM987.2 745.2h21.8v21.8h-21.8zM990.4 736.4h21.8v21.8h-21.8zM993.5 727.2h21.8v21.8h-21.8zM996.5 718h21.8v21.8h-21.8zM999.5 709.2h21.8v21.8h-21.8zM1002.4 700.7h21.8v21.8h-21.8zM1005.2 692.5h21.8v21.8h-21.8zM1007.9 684.5h21.8v21.8h-21.8zM1010.6 676.9h21.8v21.8h-21.8zM1013.3 669.6h21.8v21.8h-21.8zM1015.9 662.8h21.8v21.8h-21.8zM1018.4 656.2h21.8v21.8h-21.8zM1020.9 649.5h21.8v21.8h-21.8zM1023.4 642.5h21.8v21.8h-21.8zM1025.8 634.9h21.8v21.8h-21.8zM1028.1 627.2h21.8v21.8h-21.8zM1030.4 619.7h21.8v21.8h-21.8zM1032.7 612.9h21.8v21.8h-21.8zM1034.9 606.8h21.8v21.8h-21.8zM1037.1 601.2h21.8v21.8h-21.8zM1039.3 595.8h21.8v21.8h-21.8zM1041.4 590.3h21.8v21.8h-21.8zM1043.5 584.4h21.8v21.8h-21.8zM1045.5 578h21.8v21.8h-21.8zM1047.6 571.3h21.8v21.8h-21.8zM1049.5 564.3h21.8v21.8h-21.8zM1051.5 557.1h21.8v21.8h-21.8zM1053.4 549.4h21.8v21.8h-21.8zM1055.3 541.1h21.8v21.8h-21.8zM1057.2 533.1h21.8v21.8h-21.8zM1059.1 525.8h21.8v21.8h-21.8zM1060.9 519.3h21.8v21.8h-21.8zM1062.7 513.3h21.8v21.8h-21.8zM1064.4 507.3h21.8v21.8h-21.8zM1066.2 501.3h21.8v21.8h-21.8zM1067.9 495.4h21.8v21.8h-21.8zM1069.6 489.6h21.8v21.8h-21.8zM1071.3 483.7h21.8v21.8h-21.8zM1072.9 477.9h21.8v21.8h-21.8zM1074.6 471.9h21.8v21.8h-21.8zM1076.2 465.8h21.8v21.8h-21.8zM1077.8 459.6h21.8v21.8h-21.8zM1079.4 453.6h21.8v21.8h-21.8zM1080.9 447.6h21.8v21.8h-21.8zM1082.5 441.9h21.8v21.8h-21.8zM1084 436.5h21.8v21.8h-21.8zM1085.5 431.4h21.8v21.8h-21.8zM1087 426.4h21.8v21.8h-21.8zM1088.4 421.6h21.8v21.8h-21.8zM1089.9 416.8h21.8v21.8h-21.8zM1091.3 412.1h21.8v21.8h-21.8zM1092.7 407.3h21.8v21.8h-21.8zM1094.1 402.5h21.8v21.8h-21.8zM1095.5 397.7h21.8v21.8h-21.8zM1096.9 393h21.8v21.8h-21.8zM1098.2 388.4h21.8v21.8h-21.8zM1099.6 383.8h21.8v21.8h-21.8zM1100.9 379.4h21.8v21.8h-21.8zM1102.2 375.1h21.8v21.8h-21.8zM1103.5 370.9h21.8v21.8h-21.8zM1104.8 366.9h21.8v21.8h-21.8zM1106.1 362.9h21.8v21.8h-21.8zM1107.4 358.9h21.8v21.8h-21.8zM1108.6 355h21.8v21.8h-21.8zM1109.9 351.2h21.8v21.8h-21.8zM1111.1 347.4h21.8v21.8h-21.8zM1112.3 343.6h21.8v21.8h-21.8zM1113.5 340h21.8v21.8h-21.8zM1114.7 336.3h21.8v21.8h-21.8zM1115.9 332.7h21.8v21.8h-21.8zM1117.1 329.1h21.8v21.8h-21.8zM1118.2 325.6h21.8v21.8h-21.8zM1119.4 322.1h21.8v21.8h-21.8zM1120.5 318.6h21.8v21.8h-21.8zM1121.6 315.2h21.8v21.8h-21.8zM1122.8 311.8h21.8v21.8h-21.8zM1123.9 308.4h21.8v21.8h-21.8zM1125 305h21.8v21.8h-21.8zM1126.1 301.7h21.8v21.8h-21.8zM1127.2 298.3h21.8v21.8h-21.8zM1128.2 295h21.8v21.8h-21.8zM1129.3 291.7h21.8v21.8h-21.8zM1130.4 288.4h21.8v21.8h-21.8zM1131.4 285.1h21.8v21.8h-21.8zM1132.4 281.9h21.8v21.8h-21.8zM1133.5 278.6h21.8v21.8h-21.8zM1134.5 275.4h21.8v21.8h-21.8zM1135.5 272.2h21.8v21.8h-21.8zM1136.5 269h21.8v21.8h-21.8zM1137.5 265.9h21.8v21.8h-21.8zM1138.5 262.7h21.8v21.8h-21.8zM1139.5 259.5h21.8v21.8h-21.8zM1140.5 256.3h21.8v21.8h-21.8zM1141.4 253.2h21.8v21.8h-21.8zM1142.4 250.2h21.8v21.8h-21.8zM1143.3 247.3h21.8v21.8h-21.8zM1144.3 244.5h21.8v21.8h-21.8zM1145.2 241.7h21.8v21.8h-21.8zM1146.2 239h21.8v21.8h-21.8zM1147.1 236.3h21.8v21.8h-21.8zM1148 233.6h21.8v21.8h-21.8zM1148.9 231h21.8v21.8h-21.8zM1149.8 228.4h21.8v21.8h-21.8zM1150.7 225.9h21.8v21.8h-21.8zM1151.6 223.5h21.8v21.8h-21.8zM1152.5 221.1h21.8v21.8h-21.8zM1153.4 218.7h21.8v21.8h-21.8zM1154.3 216.4h21.8v21.8h-21.8zM1155.1 214.1h21.8v21.8h-21.8zM1156 211.8h21.8v21.8h-21.8zM1156.9 209.6h21.8v21.8h-21.8zM1157.7 207.4h21.8v21.8h-21.8zM1158.6 205.3h21.8v21.8h-21.8zM1159.4 203.1h21.8v21.8h-21.8zM1160.2 201.1h21.8v21.8h-21.8zM1161.1 199h21.8v21.8h-21.8zM1161.9 197h21.8v21.8h-21.8zM1162.7 195h21.8v21.8h-21.8zM1163.5 193.1h21.8v21.8h-21.8zM1164.3 191.2h21.8v21.8h-21.8zM1165.1 189.4h21.8v21.8h-21.8zM1165.9 187.6h21.8v21.8h-21.8zM1166.7 185.8h21.8v21.8h-21.8zM1167.5 184.1h21.8v21.8h-21.8zM1168.3 182.4h21.8v21.8h-21.8zM1169.1 180.7h21.8v21.8h-21.8zM1169.9 179.1h21.8v21.8h-21.8zM1170.6 177.5h21.8v21.8h-21.8zM1171.4 175.9h21.8v21.8h-21.8zM1172.2 174.3h21.8v21.8h-21.8zM1172.9 172.8h21.8v21.8h-21.8zM1173.7 171.3h21.8v21.8h-21.8zM1174.4 169.8h21.8v21.8h-21.8zM1175.2 168.3h21.8v21.8h-21.8zM1175.9 166.8h21.8v21.8h-21.8zM1176.6 165.4h21.8v21.8h-21.8zM1177.4 163.9h21.8v21.8h-21.8zM1178.1 162.5h21.8v21.8h-21.8zM1179.5 159.7h21.8v21.8h-21.8zM1181 156.9h21.8v21.8h-21.8zM1182.4 154.1h21.8v21.8h-21.8zM1183.8 151.4h21.8v21.8h-21.8zM1185.2 148.7h21.8v21.8h-21.8zM1186.5 146.1h21.8v21.8h-21.8zM1187.9 143.6h21.8v21.8h-21.8zM1189.2 141.2h21.8v21.8h-21.8zM1190.5 138.9h21.8v21.8h-21.8zM1191.8 136.7h21.8v21.8h-21.8zM1193.1 134.6h21.8v21.8h-21.8zM1194.4 132.6h21.8v21.8h-21.8zM1195.7 130.7h21.8v21.8h-21.8zM1197 128.8h21.8v21.8h-21.8zM1198.2 127.2h21.8v21.8h-21.8zM1199.4 125.7h21.8v21.8h-21.8zM1200.7 124.2h21.8v21.8h-21.8zM1201.9 122.9h21.8v21.8h-21.8zM1203.1 121.6h21.8v21.8h-21.8zM1204.3 120.4h21.8v21.8h-21.8zM1205.4 119.3h21.8v21.8h-21.8zM1207.2 117.6h21.8v21.8h-21.8zM1208.9 116.1h21.8v21.8h-21.8zM1210.6 114.7h21.8v21.8h-21.8zM1212.3 113.3h21.8v21.8h-21.8zM1213.9 112h21.8v21.8h-21.8zM1215.6 110.8h21.8v21.8h-21.8zM1217.2 109.6h21.8v21.8h-21.8zM1218.8 108.5h21.8v21.8h-21.8zM1220.4 107.4h21.8v21.8h-21.8zM1221.9 106.4h21.8v21.8h-21.8zM1223.4 105.4h21.8v21.8h-21.8zM1225 104.5h21.8v21.8h-21.8zM1226.5 103.6h21.8v21.8h-21.8zM1227.9 102.8h21.8v21.8h-21.8zM1229.4 101.9h21.8v21.8h-21.8zM1230.9 101.2h21.8v21.8h-21.8zM1232.3 100.4h21.8v21.8h-21.8zM1234.2 99.5h21.8v21.8h-21.8zM1236 98.6h21.8v21.8h-21.8zM1237.9 97.8h21.8v21.8h-21.8zM1239.7 97h21.8v21.8h-21.8zM1241.5 96.3h21.8v21.8h-21.8zM1243.2 95.7h21.8v21.8h-21.8zM1245 95.1h21.8v21.8h-21.8zM1246.7 94.6h21.8v21.8h-21.8zM1248.4 94.1h21.8v21.8h-21.8zM1250 93.6h21.8v21.8h-21.8zM1251.7 93.1h21.8v21.8h-21.8zM1253.3 92.7h21.8v21.8h-21.8zM1254.9 92.3h21.8v21.8h-21.8zM1256.5 91.8h21.8v21.8h-21.8zM1258.1 91.5h21.8v21.8h-21.8zM1260 91h21.8v21.8h-21.8zM1261.9 90.5h21.8v21.8h-21.8zM1263.8 90.1h21.8v21.8h-21.8zM1265.6 89.6h21.8v21.8h-21.8zM1267.4 89.2h21.8v21.8h-21.8zM1269.2 88.8h21.8v21.8h-21.8zM1271 88.5h21.8v21.8h-21.8zM1272.7 88.1h21.8v21.8h-21.8zM1274.5 87.8h21.8v21.8h-21.8zM1276.2 87.6h21.8v21.8h-21.8zM1277.8 87.3h21.8v21.8h-21.8zM1279.5 87.1h21.8v21.8h-21.8zM1281.1 86.8h21.8v21.8h-21.8zM1282.7 86.6h21.8v21.8h-21.8zM1284.3 86.4h21.8v21.8h-21.8zM1286.2 86.2h21.8v21.8h-21.8zM1288.1 86h21.8v21.8h-21.8zM1289.9 85.8h21.8v21.8h-21.8zM1291.7 85.7h21.8v21.8h-21.8zM1293.5 85.5h21.8v21.8h-21.8zM1295.3 85.4h21.8v21.8h-21.8zM1297 85.2h21.8v21.8h-21.8zM1298.7 85.1h21.8v21.8h-21.8zM1300.4 85h21.8v21.8h-21.8zM1302.1 84.9h21.8v21.8h-21.8zM1303.7 84.8h21.8v21.8h-21.8zM1305.3 84.7h21.8v21.8h-21.8zM1306.9 84.6h21.8v21.8h-21.8zM1308.8 84.5h21.8v21.8h-21.8zM1310.6 84.4h21.8v21.8h-21.8zM1312.4 84.2h21.8v21.8h-21.8zM1314.2 84.1h21.8v21.8h-21.8zM1315.9 84h21.8v21.8h-21.8zM1317.6 83.8h21.8v21.8h-21.8zM1319.3 83.7h21.8v21.8h-21.8zM1321 83.6h21.8v21.8h-21.8zM1322.7 83.4h21.8v21.8h-21.8zM1324.3 83.3h21.8v21.8h-21.8zM1325.9 83.2h21.8v21.8h-21.8zM1327.7 83.1h21.8v21.8h-21.8zM1329.5 82.9h21.8v21.8h-21.8zM1331.3 82.8h21.8v21.8h-21.8zM1333.1 82.7h21.8v21.8h-21.8zM1334.8 82.6h21.8v21.8h-21.8zM1336.5 82.5h21.8v21.8h-21.8zM1338.2 82.4h21.8v21.8h-21.8zM1339.8 82.3h21.8v21.8h-21.8zM1341.4 82.2h21.8v21.8h-21.8zM1343.1 82.1h21.8v21.8h-21.8zM1344.8 82h21.8v21.8h-21.8zM1346.6 81.9h21.8v21.8h-21.8zM1348.4 81.9h21.8v21.8h-21.8zM1350.1 81.8h21.8v21.8h-21.8zM1351.8 81.7h21.8v21.8h-21.8zM1353.5 81.6h21.8v21.8h-21.8zM1355.1 81.6h21.8v21.8h-21.8zM1356.7 81.5h21.8v21.8h-21.8zM1358.4 81.4h21.8v21.8h-21.8zM1360.1 81.4h21.8v21.8h-21.8zM1361.9 81.3h21.8v21.8h-21.8zM1363.6 81.2h21.8v21.8h-21.8zM1365.3 81.2h21.8v21.8h-21.8zM1367 81.1h21.8v21.8h-21.8zM1368.6 81h21.8v21.8h-21.8zM1370.2 81h21.8v21.8h-21.8zM1371.9 80.9h21.8v21.8h-21.8zM1373.6 80.9h21.8v21.8h-21.8zM1375.3 80.8h21.8v21.8h-21.8zM1377 80.8h21.8v21.8h-21.8zM1378.7 80.7h21.8v21.8h-21.8zM1380.4 80.7h21.8v21.8h-21.8zM1382 80.7h21.8v21.8h-21.8zM1383.6 80.7h21.8v21.8h-21.8zM1385.4 80.6h21.8v21.8h-21.8zM1387.1 80.6h21.8v21.8h-21.8zM1388.8 80.6h21.8v21.8h-21.8zM1390.5 80.6h21.8v21.8h-21.8zM1392.1 80.6h21.8v21.8h-21.8zM1393.7 80.6h21.8v21.8h-21.8zM1395.4 80.6h21.8v21.8h-21.8zM1397.1 80.6h21.8v21.8h-21.8zM1398.8 80.6h21.8v21.8h-21.8zM1400.5 80.5h21.8v21.8h-21.8zM1402.1 80.5h21.8v21.8h-21.8zM1403.8 80.5h21.8v21.8h-21.8zM1405.4 80.5h21.8v21.8h-21.8zM1407.1 80.5h21.8v21.8h-21.8zM1408.8 80.5h21.8v21.8h-21.8zM1410.4 80.5h21.8v21.8h-21.8zM1412.1 80.5h21.8v21.8h-21.8zM1413.7 80.5h21.8v21.8h-21.8zM1415.3 80.5h21.8v21.8h-21.8zM1417 80.5h21.8v21.8h-21.8zM1418.7 80.5h21.8v21.8h-21.8zM1420.4 80.5h21.8v21.8h-21.8zM1422 80.4h21.8v21.8h-21.8zM1423.6 80.4h21.8v21.8h-21.8zM1425.3 80.4h21.8v21.8h-21.8zM1427 80.4h21.8v21.8h-21.8zM1428.7 80.4h21.8v21.8h-21.8zM1430.3 80.4h21.8v21.8h-21.8zM1431.9 80.4h21.8v21.8h-21.8zM1433.6 80.4h21.8v21.8h-21.8zM1435.3 80.4h21.8v21.8h-21.8zM1436.9 80.4h21.8v21.8h-21.8zM1438.6 80.4h21.8v21.8h-21.8zM1440.2 80.4h21.8v21.8h-21.8zM1441.9 80.4h21.8v21.8h-21.8zM1443.5 80.4h21.8v21.8h-21.8zM1445.2 80.4h21.8v21.8h-21.8zM1446.8 80.4h21.8v21.8h-21.8zM1448.5 80.4h21.8v21.8h-21.8zM1450.1 80.3h21.8v21.8h-21.8zM1451.8 80.3h21.8v21.8h-21.8zM1453.4 80.3h21.8v21.8h-21.8zM1455 80.3h21.8v21.8h-21.8zM1456.7 80.3h21.8v21.8h-21.8zM1458.3 80.3h21.8v21.8h-21.8zM1459.9 80.3h21.8v21.8h-21.8zM1461.5 80.3h21.8v21.8h-21.8zM1463.2 80.3h21.8v21.8h-21.8zM1464.8 80.3h21.8v21.8h-21.8zM1466.5 80.3h21.8v21.8h-21.8zM1468.1 80.3h21.8v21.8h-21.8zM1469.8 80.3h21.8v21.8h-21.8zM1471.4 80.3h21.8v21.8h-21.8zM1473 80.3h21.8v21.8h-21.8zM1474.7 80.3h21.8v21.8h-21.8zM1476.3 80.3h21.8v21.8h-21.8zM1478 80.3h21.8v21.8h-21.8zM1479.6 80.3h21.8v21.8h-21.8zM1481.2 80.3h21.8v21.8h-21.8zM1482.8 80.3h21.8v21.8h-21.8zM1484.4 80.3h21.8v21.8h-21.8zM1486.1 80.3h21.8v21.8h-21.8zM1487.7 80.3h21.8v21.8h-21.8zM1489.4 80.3h21.8v21.8h-21.8zM1491 80.3h21.8v21.8h-21.8zM1492.6 80.3h21.8v21.8h-21.8zM1494.3 80.3h21.8v21.8h-21.8zM1495.9 80.3h21.8v21.8h-21.8zM1497.5 80.3h21.8v21.8h-21.8zM1499.2 80.3h21.8v21.8h-21.8zM1500.8 80.2h21.8v21.8h-21.8zM1502.4 80.2h21.8v21.8h-21.8zM1504.1 80.2h21.8v21.8h-21.8z" fill="#000000"/>
<path d="M652.6 1182 655.6 1180 658.6 1178 661.6 1176 664.6 1174 667.6 1171.9 670.6 1169.8 673.6 1167.6 676.6 1165.4 679.6 1163.2 682.6 1160.9 685.6 1158.7 688.6 1156.3 691.6 1154 694.6 1151.6 697.6 1149.2 700.6 1146.8 703.6 1144.3 706.6 1141.8 709.6 1139.3 712.6 1136.8 715.6 1134.3 718.6 1131.7 721.6 1129.1 724.6 1126.5 727.6 1123.8 730.6 1121.2 733.6 1118.5 736.6 1115.8 739.6 1113.1 742.6 1110.4 745.6 1107.6 748.6 1104.8 751.6 1101.9 754.6 1099 757.6 1096 760.6 1093 763.6 1090 766.6 1086.9 769.6 1083.7 772.6 1080.6 775.6 1077.4 778.6 1074.1 781.6 1070.8 784.6 1067.5 787.6 1064.1 790.6 1060.7 793.6 1057.3 796.6 1053.7 799.6 1050.2 802.6 1046.5 805.6 1042.8 808.6 1039 811.6 1035.1 814.6 1031.2 817.6 1027.3 820.6 1023.3 823.6 1019.3 826.6 1015.2 829.6 1011.2 832.6 1007.1 835.6 1002.9 838.6 998.7 841.6 994.5 844.6 990.2 847.6 985.8 850.6 981.4 853.6 977 856.6 972.5 859.6 967.9 862.6 963.4 865.6 958.7 868.6 954.1 871.6 949.3 874.6 944.5 877.6 939.6 880.6 934.7 883.6 929.6 886.6 924.4 889.6 919 892.6 913.5 895.6 907.9 898.6 902.3 901.6 896.8 904.6 891.2 907.6 885.6 910.6 880 913.6 874.4 916.6 868.8 919.6 863.2 922.6 857.6 925.6 852.1 928.6 846.5 931.6 840.9 934.6 835.3 937.6 829.7 940.6 824.1 943.6 818.5 946.6 812.7 949.6 806.7 952.6 800.3 955.6 793.8 958.6 787.4 961.6 781.2 964.6 775.3 967.6 769.5 970.6 763.7 973.6 757.7 976.6 751.7 979.6 745.7 982.6 739.6 985.6 733.4 988.6 727.2 991.6 720.7 994.6 713.9 997.6 706.9 1000.6 700.1 1003.6 693.7 1006.6 687.5 1009.6 681.3 1012.6 675.1 1015.6 668.9 1018.6 662.5 1021.6 655.9 1024.6 649.1 1027.6 642.1 1030.6 635.2 1033.6 628.8 1036.6 622.5 1039.6 615.9 1042.6 609.1 1045.6 602.2 1048.6 595.2 1051.6 588 1054.6 580.8 1057.6 573.5 1060.6 566.2 1063.6 558.7 1066.6 551.1 1069.6 543.6 1072.6 536.4 1075.6 529.6 1078.6 523.1 1081.6 516.5 1084.6 509.8 1087.6 502.7 1090.6 495 1093.6 487.3 1096.6 479.7 1099.6 472.6 1102.6 465.8 1105.6 459.1 1108.6 452.2 1111.6 445.1 1114.6 437.8 1117.6 430.5 1120.6 423.2 1123.6 415.8 1126.6 408.4 1129.6 401 1132.6 393.5 1135.6 385.8 1138.6 378.2 1141.6 370.8 1144.6 363.9 1147.6 357.6 1150.6 351.3 1153.6 344.2 1156.6 336.3 1159.6 328 1162.6 319.9 1165.6 312.1 1168.6 304.5 1171.6 297 1174.6 289.6 1177.6 282.4 1180.6 275.4 1183.6 268.6 1186.6 261.6 1189.6 254.2 1192.6 246.2 1195.6 238.5 1198.6 231.6 1201.6 225 1204.6 218.7 1207.6 212.6 1210.6 206.8 1213.6 201.3 1216.6 195.9 1219.6 190.8 1222.6 185.7 1225.6 180.8 1228.6 175.8 1231.6 170.8 1234.6 165.7 1237.6 160.4 1240.6 155.4 1243.6 150.8 1246.6 146.6 1249.6 142.6 1252.6 138.9 1255.6 135.4 1258.6 131.9 1261.6 128.6 1264.6 125.6 1267.6 123.1 1270.6 120.9 1273.6 118.9 1276.6 117 1279.6 115.2 1282.6 113.6 1285.6 112.1 1288.6 110.9 1291.6 109.8 1294.6 108.8 1297.6 107.9 1300.6 107.1 1303.6 106.4 1306.6 105.7 1309.6 105.1 1312.6 104.5 1315.6 104 1318.6 103.5 1321.6 103.1 1324.6 102.6 1327.6 102.3 1330.6 101.9 1333.6 101.5 1336.6 101.2 1339.6 100.8 1342.6 100.4 1345.6 100.1 1348.6 99.7 1351.6 99.3 1354.6 98.9 1357.6 98.5 1360.6 98.2 1363.6 97.8 1366.6 97.4 1369.6 97 1372.6 96.7 1375.6 96.3 1378.6 96 1381.6 95.7 1384.6 95.4 1387.6 95.1 1390.6 94.9 1393.6 94.7 1396.6 94.5 1399.6 94.3 1402.6 94.1 1405.6 94 1408.6 93.8 1411.6 93.6 1414.6 93.5 1417.6 93.3 1420.6 93.2 1423.6 93 1426.6 92.9 1429.6 92.7 1432.6 92.6 1435.6 92.5 1438.6 92.4 1441.6 92.2 1444.6 92.1 1447.6 92 1450.6 91.9 1453.6 91.8 1456.6 91.7 1459.6 91.6 1462.6 91.5 1465.6 91.5 1468.6 91.4 1471.6 91.3 1474.6 91.3 1477.6 91.2 1480.6 91.2 1483.6 91.2 1486.6 91.1 1489.6 91.1 1492.6 91.1 1495.6 91.1 1498.6 91.1 1501.6 91.1 1504.6 91.1 1507.6 91 1510.6 91 1513.6 91 1516.6 91 1519.6 91 1522.6 91 1525.6 91 1528.6 91 1531.6 90.9 1534.6 90.9 1537.6 90.9 1540.6 90.9 1543.6 90.9 1546.6 90.9 1549.6 90.9 1552.6 90.9 1555.6 90.9 1558.6 90.8 1561.6 90.8 1564.6 90.8 1567.6 90.8 1570.6 90.8 1573.6 90.8 1576.6 90.8 1579.6 90.8 1582.6 90.8 1585.6 90.8 1588.6 90.8 1591.6 90.7 1594.6 90.7 1597.6 90.7 1600.6 90.7 1603.6 90.7 1606.6 90.7 1609.6 90.7 1612.6 90.7 1615.6 90.7 1618.6 90.7 1621.6 90.7 1624.6 90.7 1627.6 90.7 1630.6 90.7 1633.6 90.6 1636.6 90.6 1639.6 90.6 1642.6 90.6 1645.6 90.6 1648.6 90.6 1651.6 90.6 1654.6 90.6 1657.6 90.6 1660.6 90.6 1663.6 90.6 1666.6 90.6 1669.6 90.6 1672.6 90.6 1675.6 90.6 1678.6 90.6 1681.6 90.6 1684.6 90.6 1687.6 90.6 1690.6 90.6 1693.6 90.5 1696.6 90.5 1699.6 90.5 1702.6 90.5 1705.6 90.5 1708.6 90.5 1711.6 90.5 1714.6 90.5 1717.6 90.5 1720.6 90.5 1723.6 90.5 1726.6 90.5 1729.6 90.5 1732.6 90.5 1735.6 90.5 1738.6 90.5 1741.6 90.5 1744.6 90.5 1747.6 90.5 1750.6 90.5 1753.6 90.5 1756.6 90.5 1759.6 90.5 1762.6 90.5 1763.4 90.5" fill="none" stroke="#ff0000" stroke-width="7.8" stroke-linejoin="round"/>
<path d="M641.7 1171.1h21.8v21.8h-21.8zM730.7 1100.4h21.8v21.8h-21.8zM782.7 1046.4h21.8v21.8h-21.8zM819.6 999h21.8v21.8h-21.8zM848.3 957.7h21.8v21.8h-21.8zM871.7 920.5h21.8v21.8h-21.8zM891.5 884.5h21.8v21.8h-21.8zM908.6 852.6h21.8v21.8h-21.8zM923.7 824.4h21.8v21.8h-21.8zM937.2 798.8h21.8v21.8h-21.8zM949.5 772.9h21.8v21.8h-21.8zM960.6 751h21.8v21.8h-21.8zM970.9 730.4h21.8v21.8h-21.8zM980.4 710.5h21.8v21.8h-21.8zM989.3 690.3h21.8v21.8h-21.8zM997.5 672.8h21.8v21.8h-21.8zM1005.3 656.8h21.8v21.8h-21.8zM1012.7 640.6h21.8v21.8h-21.8zM1019.6 624.6h21.8v21.8h-21.8zM1026.2 610.6h21.8v21.8h-21.8zM1032.4 596.6h21.8v21.8h-21.8zM1038.4 582.6h21.8v21.8h-21.8zM1044.1 569h21.8v21.8h-21.8zM1049.6 555.7h21.8v21.8h-21.8zM1054.8 542.5h21.8v21.8h-21.8zM1059.9 529.9h21.8v21.8h-21.8zM1064.7 518.7h21.8v21.8h-21.8zM1069.4 508.6h21.8v21.8h-21.8zM1073.9 498.6h21.8v21.8h-21.8zM1078.2 488h21.8v21.8h-21.8zM1082.4 477.2h21.8v21.8h-21.8zM1086.5 466.9h21.8v21.8h-21.8zM1090.5 457.8h21.8v21.8h-21.8zM1094.3 449.2h21.8v21.8h-21.8zM1098 440.7h21.8v21.8h-21.8zM1101.6 432.1h21.8v21.8h-21.8zM1105.1 423.5h21.8v21.8h-21.8zM1108.6 415.2h21.8v21.8h-21.8zM1111.9 407h21.8v21.8h-21.8zM1115.1 399h21.8v21.8h-21.8zM1118.3 391.1h21.8v21.8h-21.8zM1121.4 383.4h21.8v21.8h-21.8zM1124.4 375.7h21.8v21.8h-21.8zM1127.4 368.2h21.8v21.8h-21.8zM1130.3 361h21.8v21.8h-21.8zM1133.1 354.4h21.8v21.8h-21.8zM1135.8 348.5h21.8v21.8h-21.8zM1138.5 343h21.8v21.8h-21.8zM1141.2 337.1h21.8v21.8h-21.8zM1143.8 330.6h21.8v21.8h-21.8zM1146.3 323.8h21.8v21.8h-21.8zM1148.8 316.9h21.8v21.8h-21.8zM1151.3 310.2h21.8v21.8h-21.8zM1153.7 304h21.8v21.8h-21.8zM1156 297.9h21.8v21.8h-21.8zM1158.3 292.1h21.8v21.8h-21.8zM1160.6 286.4h21.8v21.8h-21.8zM1162.8 280.9h21.8v21.8h-21.8zM1165 275.5h21.8v21.8h-21.8zM1167.2 270.4h21.8v21.8h-21.8zM1169.3 265.5h21.8v21.8h-21.8zM1171.4 260.8h21.8v21.8h-21.8zM1173.4 256h21.8v21.8h-21.8zM1175.5 251.3h21.8v21.8h-21.8zM1177.4 246.5h21.8v21.8h-21.8zM1179.4 241.5h21.8v21.8h-21.8zM1181.3 236.3h21.8v21.8h-21.8zM1183.2 231.3h21.8v21.8h-21.8zM1185.1 226.7h21.8v21.8h-21.8zM1187 222.4h21.8v21.8h-21.8zM1188.8 218.3h21.8v21.8h-21.8zM1190.6 214.4h21.8v21.8h-21.8zM1192.3 210.6h21.8v21.8h-21.8zM1194.1 207h21.8v21.8h-21.8zM1195.8 203.6h21.8v21.8h-21.8zM1197.5 200.2h21.8v21.8h-21.8zM1199.2 197h21.8v21.8h-21.8zM1200.8 193.8h21.8v21.8h-21.8zM1202.5 190.8h21.8v21.8h-21.8zM1204.1 187.9h21.8v21.8h-21.8zM1205.7 185.1h21.8v21.8h-21.8zM1207.3 182.4h21.8v21.8h-21.8zM1208.8 179.7h21.8v21.8h-21.8zM1210.4 177.1h21.8v21.8h-21.8zM1211.9 174.6h21.8v21.8h-21.8zM1213.4 172.1h21.8v21.8h-21.8zM1214.9 169.6h21.8v21.8h-21.8zM1216.3 167.2h21.8v21.8h-21.8zM1217.8 164.8h21.8v21.8h-21.8zM1219.2 162.4h21.8v21.8h-21.8zM1220.6 160.1h21.8v21.8h-21.8zM1222 157.7h21.8v21.8h-21.8zM1223.4 155.3h21.8v21.8h-21.8zM1224.8 152.9h21.8v21.8h-21.8zM1226.1 150.6h21.8v21.8h-21.8zM1227.5 148.2h21.8v21.8h-21.8zM1228.8 146h21.8v21.8h-21.8zM1230.1 143.8h21.8v21.8h-21.8zM1231.4 141.8h21.8v21.8h-21.8zM1232.7 139.9h21.8v21.8h-21.8zM1234 138.1h21.8v21.8h-21.8zM1235.3 136.3h21.8v21.8h-21.8zM1236.5 134.6h21.8v21.8h-21.8zM1237.8 133h21.8v21.8h-21.8zM1239 131.4h21.8v21.8h-21.8zM1240.2 129.9h21.8v21.8h-21.8zM1241.4 128.4h21.8v21.8h-21.8zM1242.6 127h21.8v21.8h-21.8zM1243.8 125.6h21.8v21.8h-21.8zM1245 124.2h21.8v21.8h-21.8zM1246.1 122.9h21.8v21.8h-21.8zM1247.3 121.6h21.8v21.8h-21.8zM1248.4 120.3h21.8v21.8h-21.8zM1249.5 119h21.8v21.8h-21.8zM1250.7 117.7h21.8v21.8h-21.8zM1251.8 116.6h21.8v21.8h-21.8zM1254 114.5h21.8v21.8h-21.8zM1256.1 112.7h21.8v21.8h-21.8zM1258.3 111.1h21.8v21.8h-21.8zM1260.3 109.6h21.8v21.8h-21.8zM1262.4 108.2h21.8v21.8h-21.8zM1264.4 106.9h21.8v21.8h-21.8zM1266.4 105.7h21.8v21.8h-21.8zM1268.4 104.5h21.8v21.8h-21.8zM1270.3 103.4h21.8v21.8h-21.8zM1272.2 102.4h21.8v21.8h-21.8zM1274.1 101.5h21.8v21.8h-21.8zM1275.9 100.7h21.8v21.8h-21.8zM1277.7 100h21.8v21.8h-21.8zM1279.5 99.3h21.8v21.8h-21.8zM1281.3 98.7h21.8v21.8h-21.8zM1283 98.1h21.8v21.8h-21.8zM1284.8 97.6h21.8v21.8h-21.8zM1286.5 97.1h21.8v21.8h-21.8zM1288.1 96.6h21.8v21.8h-21.8zM1289.8 96.2h21.8v21.8h-21.8zM1291.4 95.8h21.8v21.8h-21.8zM1293 95.4h21.8v21.8h-21.8zM1294.6 95h21.8v21.8h-21.8zM1296.2 94.7h21.8v21.8h-21.8zM1298.5 94.2h21.8v21.8h-21.8zM1300.8 93.8h21.8v21.8h-21.8zM1303.1 93.4h21.8v21.8h-21.8zM1305.3 93h21.8v21.8h-21.8zM1307.4 92.6h21.8v21.8h-21.8zM1309.6 92.3h21.8v21.8h-21.8zM1311.7 92h21.8v21.8h-21.8zM1313.7 91.7h21.8v21.8h-21.8zM1315.8 91.5h21.8v21.8h-21.8zM1317.8 91.2h21.8v21.8h-21.8zM1319.7 91h21.8v21.8h-21.8zM1321.7 90.7h21.8v21.8h-21.8zM1323.6 90.5h21.8v21.8h-21.8zM1325.5 90.3h21.8v21.8h-21.8zM1327.3 90.1h21.8v21.8h-21.8zM1329.2 89.9h21.8v21.8h-21.8zM1331 89.6h21.8v21.8h-21.8zM1332.7 89.4h21.8v21.8h-21.8zM1334.5 89.2h21.8v21.8h-21.8zM1336.2 89h21.8v21.8h-21.8zM1337.9 88.8h21.8v21.8h-21.8zM1339.6 88.5h21.8v21.8h-21.8zM1341.3 88.3h21.8v21.8h-21.8zM1342.9 88.1h21.8v21.8h-21.8zM1344.5 87.9h21.8v21.8h-21.8zM1346.1 87.7h21.8v21.8h-21.8zM1348.3 87.4h21.8v21.8h-21.8zM1350.3 87.2h21.8v21.8h-21.8zM1352.4 86.9h21.8v21.8h-21.8zM1354.4 86.7h21.8v21.8h-21.8zM1356.3 86.4h21.8v21.8h-21.8zM1358.3 86.2h21.8v21.8h-21.8zM1360.2 86h21.8v21.8h-21.8zM1362.1 85.7h21.8v21.8h-21.8zM1363.9 85.5h21.8v21.8h-21.8zM1365.8 85.3h21.8v21.8h-21.8zM1367.6 85.1h21.8v21.8h-21.8zM1369.4 84.9h21.8v21.8h-21.8zM1371.1 84.8h21.8v21.8h-21.8zM1372.9 84.6h21.8v21.8h-21.8zM1374.6 84.4h21.8v21.8h-21.8zM1376.3 84.3h21.8v21.8h-21.8zM1377.9 84.1h21.8v21.8h-21.8zM1379.6 84h21.8v21.8h-21.8zM1381.2 83.9h21.8v21.8h-21.8zM1382.8 83.8h21.8v21.8h-21.8zM1384.8 83.6h21.8v21.8h-21.8zM1386.7 83.5h21.8v21.8h-21.8zM1388.6 83.4h21.8v21.8h-21.8zM1390.5 83.3h21.8v21.8h-21.8zM1392.4 83.2h21.8v21.8h-21.8zM1394.2 83.1h21.8v21.8h-21.8zM1396 83h21.8v21.8h-21.8zM1397.8 82.9h21.8v21.8h-21.8zM1399.6 82.8h21.8v21.8h-21.8zM1401.3 82.7h21.8v21.8h-21.8zM1403 82.6h21.8v21.8h-21.8zM1404.7 82.5h21.8v21.8h-21.8zM1406.4 82.4h21.8v21.8h-21.8zM1408 82.4h21.8v21.8h-21.8zM1409.7 82.3h21.8v21.8h-21.8zM1411.3 82.2h21.8v21.8h-21.8zM1413.2 82.1h21.8v21.8h-21.8zM1415.1 82h21.8v21.8h-21.8zM1416.9 81.9h21.8v21.8h-21.8zM1418.7 81.8h21.8v21.8h-21.8zM1420.5 81.8h21.8v21.8h-21.8zM1422.3 81.7h21.8v21.8h-21.8zM1424 81.6h21.8v21.8h-21.8zM1425.8 81.5h21.8v21.8h-21.8zM1427.5 81.5h21.8v21.8h-21.8zM1429.1 81.4h21.8v21.8h-21.8zM1430.8 81.3h21.8v21.8h-21.8zM1432.4 81.3h21.8v21.8h-21.8zM1434 81.2h21.8v21.8h-21.8zM1435.9 81.1h21.8v21.8h-21.8zM1437.7 81.1h21.8v21.8h-21.8zM1439.5 81h21.8v21.8h-21.8zM1441.3 80.9h21.8v21.8h-21.8zM1443.1 80.9h21.8v21.8h-21.8zM1444.8 80.8h21.8v21.8h-21.8zM1446.5 80.8h21.8v21.8h-21.8zM1448.2 80.7h21.8v21.8h-21.8zM1449.9 80.7h21.8v21.8h-21.8zM1451.5 80.6h21.8v21.8h-21.8zM1453.1 80.6h21.8v21.8h-21.8zM1454.7 80.6h21.8v21.8h-21.8zM1456.5 80.5h21.8v21.8h-21.8zM1458.3 80.5h21.8v21.8h-21.8zM1460.1 80.4h21.8v21.8h-21.8zM1461.8 80.4h21.8v21.8h-21.8zM1463.5 80.4h21.8v21.8h-21.8zM1465.2 80.4h21.8v21.8h-21.8zM1466.9 80.3h21.8v21.8h-21.8zM1468.5 80.3h21.8v21.8h-21.8zM1470.2 80.3h21.8v21.8h-21.8zM1471.8 80.3h21.8v21.8h-21.8zM1473.5 80.3h21.8v21.8h-21.8zM1475.3 80.2h21.8v21.8h-21.8zM1477 80.2h21.8v21.8h-21.8zM1478.7 80.2h21.8v21.8h-21.8zM1480.4 80.2h21.8v21.8h-21.8zM1482.1 80.2h21.8v21.8h-21.8zM1483.7 80.2h21.8v21.8h-21.8zM1485.4 80.2h21.8v21.8h-21.8zM1487 80.2h21.8v21.8h-21.8zM1488.7 80.2h21.8v21.8h-21.8zM1490.5 80.2h21.8v21.8h-21.8zM1492.2 80.2h21.8v21.8h-21.8zM1493.9 80.2h21.8v21.8h-21.8zM1495.5 80.2h21.8v21.8h-21.8zM1497.2 80.1h21.8v21.8h-21.8zM1498.8 80.1h21.8v21.8h-21.8zM1500.4 80.1h21.8v21.8h-21.8zM1502.1 80.1h21.8v21.8h-21.8zM1503.9 80.1h21.8v21.8h-21.8zM1505.5 80.1h21.8v21.8h-21.8zM1507.2 80.1h21.8v21.8h-21.8zM1508.9 80.1h21.8v21.8h-21.8zM1510.5 80.1h21.8v21.8h-21.8zM1512.1 80.1h21.8v21.8h-21.8zM1513.9 80.1h21.8v21.8h-21.8zM1515.6 80.1h21.8v21.8h-21.8zM1517.3 80.1h21.8v21.8h-21.8zM1518.9 80.1h21.8v21.8h-21.8zM1520.6 80h21.8v21.8h-21.8zM1522.2 80h21.8v21.8h-21.8zM1523.8 80h21.8v21.8h-21.8zM1525.5 80h21.8v21.8h-21.8zM1527.2 80h21.8v21.8h-21.8zM1528.9 80h21.8v21.8h-21.8zM1530.5 80h21.8v21.8h-21.8zM1532.1 80h21.8v21.8h-21.8zM1533.8 80h21.8v21.8h-21.8zM1535.5 80h21.8v21.8h-21.8zM1537.2 80h21.8v21.8h-21.8zM1538.8 80h21.8v21.8h-21.8zM1540.5 80h21.8v21.8h-21.8zM1542.1 80h21.8v21.8h-21.8zM1543.7 80h21.8v21.8h-21.8zM1545.4 80h21.8v21.8h-21.8zM1547.1 79.9h21.8v21.8h-21.8zM1548.7 79.9h21.8v21.8h-21.8zM1550.3 79.9h21.8v21.8h-21.8zM1551.9 79.9h21.8v21.8h-21.8zM1553.6 79.9h21.8v21.8h-21.8zM1555.3 79.9h21.8v21.8h-21.8zM1557 79.9h21.8v21.8h-21.8zM1558.6 79.9h21.8v21.8h-21.8zM1560.2 79.9h21.8v21.8h-21.8zM1561.9 79.9h21.8v21.8h-21.8zM1563.6 79.9h21.8v21.8h-21.8zM1565.2 79.9h21.8v21.8h-21.8zM1566.8 79.9h21.8v21.8h-21.8zM1568.4 79.9h21.8v21.8h-21.8zM1570.1 79.9h21.8v21.8h-21.8zM1571.8 79.9h21.8v21.8h-21.8zM1573.4 79.9h21.8v21.8h-21.8zM1575 79.9h21.8v21.8h-21.8zM1576.7 79.9h21.8v21.8h-21.8zM1578.4 79.9h21.8v21.8h-21.8zM1580 79.8h21.8v21.8h-21.8zM1581.6 79.8h21.8v21.8h-21.8zM1583.3 79.8h21.8v21.8h-21.8zM1585 79.8h21.8v21.8h-21.8zM1586.6 79.8h21.8v21.8h-21.8zM1588.2 79.8h21.8v21.8h-21.8zM1589.9 79.8h21.8v21.8h-21.8zM1591.6 79.8h21.8v21.8h-21.8zM1593.2 79.8h21.8v21.8h-21.8zM1594.8 79.8h21.8v21.8h-21.8zM1596.5 79.8h21.8v21.8h-21.8zM1598.1 79.8h21.8v21.8h-21.8zM1599.8 79.8h21.8v21.8h-21.8zM1601.4 79.8h21.8v21.8h-21.8zM1603 79.8h21.8v21.8h-21.8zM1604.7 79.8h21.8v21.8h-21.8zM1606.3 79.8h21.8v21.8h-21.8zM1607.9 79.8h21.8v21.8h-21.8zM1609.6 79.8h21.8v21.8h-21.8zM1611.2 79.8h21.8v21.8h-21.8zM1612.8 79.8h21.8v21.8h-21.8zM1614.5 79.8h21.8v21.8h-21.8zM1616.1 79.8h21.8v21.8h-21.8zM1617.7 79.8h21.8v21.8h-21.8zM1619.3 79.8h21.8v21.8h-21.8zM1621 79.7h21.8v21.8h-21.8zM1622.6 79.7h21.8v21.8h-21.8zM1624.2 79.7h21.8v21.8h-21.8zM1625.9 79.7h21.8v21.8h-21.8zM1627.5 79.7h21.8v21.8h-21.8zM1629.1 79.7h21.8v21.8h-21.8zM1630.8 79.7h21.8v21.8h-21.8zM1632.4 79.7h21.8v21.8h-21.8zM1634 79.7h21.8v21.8h-21.8zM1635.6 79.7h21.8v21.8h-21.8zM1637.2 79.7h21.8v21.8h-21.8zM1638.9 79.7h21.8v21.8h-21.8zM1640.5 79.7h21.8v21.8h-21.8zM1642.1 79.7h21.8v21.8h-21.8zM1643.8 79.7h21.8v21.8h-21.8zM1645.4 79.7h21.8v21.8h-21.8zM1647 79.7h21.8v21.8h-21.8zM1648.6 79.7h21.8v21.8h-21.8zM1650.3 79.7h21.8v21.8h-21.8zM1651.9 79.7h21.8v21.8h-21.8zM1653.5 79.7h21.8v21.8h-21.8zM1655.1 79.7h21.8v21.8h-21.8zM1656.7 79.7h21.8v21.8h-21.8zM1658.4 79.7h21.8v21.8h-21.8zM1660 79.7h21.8v21.8h-21.8zM1661.6 79.7h21.8v21.8h-21.8zM1663.3 79.7h21.8v21.8h-21.8zM1664.9 79.7h21.8v21.8h-21.8zM1666.5 79.7h21.8v21.8h-21.8zM1668.1 79.7h21.8v21.8h-21.8zM1669.7 79.7h21.8v21.8h-21.8zM1671.3 79.7h21.8v21.8h-21.8zM1673 79.7h21.8v21.8h-21.8zM1674.6 79.7h21.8v21.8h-21.8zM1676.2 79.7h21.8v21.8h-21.8zM1677.8 79.7h21.8v21.8h-21.8zM1679.5 79.7h21.8v21.8h-21.8zM1681.1 79.7h21.8v21.8h-21.8zM1682.7 79.6h21.8v21.8h-21.8zM1684.3 79.6h21.8v21.8h-21.8zM1685.9 79.6h21.8v21.8h-21.8zM1687.5 79.6h21.8v21.8h-21.8zM1689.1 79.6h21.8v21.8h-21.8zM1690.8 79.6h21.8v21.8h-21.8zM1692.4 79.6h21.8v21.8h-21.8zM1694 79.6h21.8v21.8h-21.8zM1695.6 79.6h21.8v21.8h-21.8zM1697.2 79.6h21.8v21.8h-21.8zM1698.8 79.6h21.8v21.8h-21.8zM1700.5 79.6h21.8v21.8h-21.8zM1702.1 79.6h21.8v21.8h-21.8zM1703.7 79.6h21.8v21.8h-21.8zM1705.3 79.6h21.8v21.8h-21.8zM1706.9 79.6h21.8v21.8h-21.8zM1708.6 79.6h21.8v21.8h-21.8zM1710.2 79.6h21.8v21.8h-21.8zM1711.8 79.6h21.8v21.8h-21.8zM1713.4 79.6h21.8v21.8h-21.8zM1715 79.6h21.8v21.8h-21.8zM1716.6 79.6h21.8v21.8h-21.8zM1718.3 79.6h21.8v21.8h-21.8zM1719.9 79.6h21.8v21.8h-21.8zM1721.5 79.6h21.8v21.8h-21.8zM1723.1 79.6h21.8v21.8h-21.8zM1724.7 79.6h21.8v21.8h-21.8zM1726.3 79.6h21.8v21.8h-21.8zM1727.9 79.6h21.8v21.8h-21.8zM1729.5 79.6h21.8v21.8h-21.8zM1731.2 79.6h21.8v21.8h-21.8zM1732.8 79.6h21.8v21.8h-21.8zM1734.4 79.6h21.8v21.8h-21.8zM1736 79.6h21.8v21.8h-21.8zM1737.6 79.6h21.8v21.8h-21.8zM1739.2 79.6h21.8v21.8h-21.8zM1740.8 79.6h21.8v21.8h-21.8zM1742.4 79.6h21.8v21.8h-21.8zM1744 79.6h21.8v21.8h-21.8zM1745.6 79.6h21.8v21.8h-21.8zM1747.3 79.6h21.8v21.8h-21.8zM1748.9 79.6h21.8v21.8h-21.8zM1750.5 79.6h21.8v21.8h-21.8zM1752.1 79.6h21.8v21.8h-21.8z" fill="#ff0000"/>
<path d="M1309.5 84.6l14 26.4h-28zM1339.8 80.2l14 26.4h-28zM1385.2 76l14 26.4h-28zM1431.6 73.6l14 26.4h-28zM1443.9 73.2l14 26.4h-28z" fill="#ff00ff"/>
<path d="M799 1049.1 802 1045.3 805 1041.6 808 1037.7 811 1033.9 814 1030 817 1026 820 1022 823 1018 826 1013.9 829 1009.8 832 1005.6 835 1001.4 838 997.2 841 992.9 844 988.5 847 984.1 850 979.7 853 975.2 856 970.6 859 966.1 862 961.4 865 956.8 868 952.1 871 947.4 874 942.5 877 937.7 880 932.7 883 927.7 886 922.5 889 917.3 892 911.9 895 906.5 898 901 901 895.4 904 889.8 907 884 910 878.1 913 872.1 916 866.2 919 860.4 922 854.9 925 849.7 928 844.6 931 839.6 934 834.7 937 829.8 940 824.8 943 819.9 946 814.8 949 809.6 952 804.2 955 798.5 958 792.7 961 786.7 964 780.6 967 774.3 970 767.9 973 761.4 976 754.9 979 748.3 982 741.6 985 734.8 988 728.1 991 721.3 994 714.5 997 707.7 1000 700.7 1003 693.7 1006 686.5 1009 679.2 1012 671.9 1015 664.5 1018 657.2 1021 650 1024 642.8 1027 635.7 1030 628.7 1033 621.8 1036 614.9 1039 608 1042 601.3 1045 594.9 1048 588.5 1051 581.7 1054 574.6 1057 566.9 1060 558.8 1063 550.8 1066 542.9 1069 535.3 1072 527.8 1075 520.4 1078 513 1081 505.6 1084 498.1 1087 490.9 1090 483.8 1093 476.4 1096 468.6 1099 459.3 1102 448.5 1105 438.3 1108 430.3 1111 423.8 1114 417.9 1117 411.7 1120 404.7 1123 397.1 1126 389.1 1129 380.9 1132 372.2 1135 363.3 1138 354.7 1141 346.3 1144 338.2 1147 330.9 1150 323.9 1153 316.1 1156 306.6 1159 297.8 1162 290.6 1165 283.8 1168 276.5 1171 268.9 1174 262.5 1177 256.9 1180 250.7 1183 244.4 1186 237.9 1189 231.3 1192 224.6 1195 217.6 1198 210.3 1201 203.2 1204 196.5 1207 190.7 1210 185.5 1213 180.6 1216 175.9 1219 171.5 1222 167.1 1225 162.9 1228 158.6 1231 154.2 1234 150 1237 146 1240 142.7 1243 140 1246 137.6 1249 135.4 1252 133.1 1255 130.8 1258 128.4 1261 126.1 1264 123.9 1267 121.8 1270 119.8 1273 117.8 1276 115.9 1279 114 1282 112.3 1285 110.6 1288 109.2 1291 107.9 1294 106.8 1297 105.9 1300 105 1303 104.3 1306 103.5 1309 102.8 1312 102.1 1315 101.6 1318 101 1321 100.6 1324 100.2 1327 99.8 1330 99.4 1333 99.1 1336 98.8 1339 98.4 1342 98.1 1345 97.8 1348 97.5 1351 97.2 1354 96.9 1357 96.6 1360 96.3 1363 96 1366 95.7 1369 95.5 1372 95.2 1375 94.9 1378 94.6 1381 94.4 1384 94.1 1387 93.9 1390 93.7 1393 93.5 1396 93.4 1399 93.2 1402 93.1 1405 92.9 1408 92.7 1411 92.6 1414 92.4 1417 92.3 1420 92.2 1423 92 1426 91.9 1429 91.8 1432 91.7 1435 91.6 1438 91.5 1441 91.4 1444 91.3 1447 91.2 1450 91.2 1453 91.1 1456 91.1 1459 91.1 1462 91 1465 91 1468 91 1471 91 1474 91 1477 91 1480 91 1483 91 1486 91 1489 91 1492 91 1495 91 1498 91 1501 91 1504 91 1507 91 1510 91 1513 91 1516 91 1519 91 1522 91 1525 91 1528 91 1531 91 1534 91 1537 91 1540 90.9 1543 90.9 1546 90.9 1549 90.9 1552 90.9 1555 90.9 1558 90.9 1561 90.9 1564 90.9 1567 90.9 1570 90.9 1573 90.9 1576 90.9 1579 90.9 1582 90.9 1585 90.9 1588 90.9 1591 90.9 1594 90.9 1597 90.9 1600 90.9 1603 90.9 1606 90.9 1609 90.9 1612 90.9 1615 90.9 1618 90.9 1621 90.9 1624 90.9 1627 90.9 1630 90.9 1633 90.9 1636 90.9 1639 90.9 1642 90.9 1645 90.9 1648 90.9 1651 90.8 1654 90.8 1657 90.8 1660 90.8 1663 90.8 1666 90.8 1669 90.8 1672 90.8 1675 90.8 1678 90.8 1681 90.8 1684 90.8 1687 90.8 1690 90.8 1693 90.8 1696 90.8 1699 90.8 1702 90.8 1705 90.8 1708 90.8 1711 90.8 1714 90.8 1717 90.8 1720 90.8 1723 90.8 1726 90.8 1729 90.8 1732 90.8 1735 90.8 1738 90.8 1741 90.8 1744 90.8 1747 90.8 1750 90.8 1753 90.8 1756 90.8 1759 90.8 1762 90.8 1765 90.8 1768 90.8 1771 90.8 1774 90.8 1777 90.8 1780 90.8 1783 90.8 1786 90.8 1789 90.8 1792 90.8 1795 90.8 1798 90.8 1801 90.8 1804 90.8 1807 90.8 1810 90.8 1813 90.8 1816 90.8 1819 90.8 1821.8 90.8" fill="none" stroke="#ff0080" stroke-width="7.8" stroke-linejoin="round"/>
<path d="M799 1032.3l14 26.4h-28zM1128 366.8l14 26.4h-28zM1129 363.9l14 26.4h-28zM1130.1 360.9l14 26.4h-28zM1131.1 357.9l14 26.4h-28zM1132.1 354.9l14 26.4h-28zM1133.2 351.8l14 26.4h-28zM1134.2 348.8l14 26.4h-28zM1135.2 345.9l14 26.4h-28zM1136.2 343l14 26.4h-28zM1137.2 340.2l14 26.4h-28zM1138.2 337.4l14 26.4h-28zM1139.1 334.6l14 26.4h-28zM1140.1 331.9l14 26.4h-28zM1141.1 329.2l14 26.4h-28zM1142 326.6l14 26.4h-28zM1143 324.1l14 26.4h-28zM1143.9 321.6l14 26.4h-28zM1144.8 319.2l14 26.4h-28zM1145.8 316.9l14 26.4h-28zM1146.7 314.8l14 26.4h-28zM1147.6 312.6l14 26.4h-28zM1148.5 310.5l14 26.4h-28zM1149.4 308.5l14 26.4h-28zM1150.3 306.3l14 26.4h-28zM1151.2 304.1l14 26.4h-28zM1152.1 301.8l14 26.4h-28zM1152.9 299.4l14 26.4h-28zM1153.8 296.8l14 26.4h-28zM1154.7 294.1l14 26.4h-28zM1155.5 291.2l14 26.4h-28zM1156.4 288.5l14 26.4h-28zM1157.2 285.9l14 26.4h-28zM1158.1 283.4l14 26.4h-28zM1158.9 281.1l14 26.4h-28zM1159.7 279l14 26.4h-28zM1160.6 277l14 26.4h-28zM1161.4 275.1l14 26.4h-28zM1162.2 273.2l14 26.4h-28zM1163 271.4l14 26.4h-28zM1163.8 269.6l14 26.4h-28zM1164.6 267.8l14 26.4h-28zM1165.4 266l14 26.4h-28zM1166.2 264.1l14 26.4h-28zM1167 262.1l14 26.4h-28zM1167.8 260.2l14 26.4h-28zM1168.5 258.2l14 26.4h-28zM1169.3 256.2l14 26.4h-28zM1170.1 254.3l14 26.4h-28zM1170.8 252.4l14 26.4h-28zM1171.6 250.7l14 26.4h-28zM1172.4 249l14 26.4h-28zM1173.1 247.4l14 26.4h-28zM1173.8 246l14 26.4h-28zM1175.3 243.2l14 26.4h-28zM1176.8 240.4l14 26.4h-28zM1178.2 237.6l14 26.4h-28zM1178.9 236.1l14 26.4h-28zM1179.6 234.6l14 26.4h-28zM1180.4 233.1l14 26.4h-28zM1181.1 231.6l14 26.4h-28zM1181.8 230.2l14 26.4h-28zM1182.4 228.7l14 26.4h-28zM1183.1 227.2l14 26.4h-28zM1183.8 225.7l14 26.4h-28zM1184.5 224.2l14 26.4h-28zM1185.2 222.8l14 26.4h-28zM1185.9 221.3l14 26.4h-28zM1186.5 219.8l14 26.4h-28zM1187.2 218.3l14 26.4h-28zM1187.9 216.9l14 26.4h-28zM1188.5 215.4l14 26.4h-28zM1189.2 213.9l14 26.4h-28zM1190.5 211l14 26.4h-28zM1191.8 208.1l14 26.4h-28zM1193.1 205.2l14 26.4h-28zM1193.7 203.7l14 26.4h-28zM1194.4 202.2l14 26.4h-28zM1195 200.7l14 26.4h-28zM1195.6 199.2l14 26.4h-28zM1196.2 197.7l14 26.4h-28zM1196.9 196.2l14 26.4h-28zM1197.5 194.7l14 26.4h-28zM1198.1 193.2l14 26.4h-28zM1198.7 191.7l14 26.4h-28zM1199.9 188.8l14 26.4h-28zM1201.1 185.9l14 26.4h-28zM1202.3 183.2l14 26.4h-28zM1203.5 180.7l14 26.4h-28zM1204.7 178.2l14 26.4h-28zM1205.8 176l14 26.4h-28zM1207 173.9l14 26.4h-28zM1208.1 171.8l14 26.4h-28zM1209.3 169.9l14 26.4h-28zM1210.4 168l14 26.4h-28zM1211.5 166.1l14 26.4h-28zM1212.6 164.3l14 26.4h-28zM1213.7 162.6l14 26.4h-28zM1214.8 160.9l14 26.4h-28zM1215.9 159.3l14 26.4h-28zM1216.9 157.7l14 26.4h-28zM1218 156.1l14 26.4h-28zM1219 154.6l14 26.4h-28zM1220.1 153.1l14 26.4h-28zM1221.1 151.6l14 26.4h-28zM1222.1 150.1l14 26.4h-28zM1223.1 148.7l14 26.4h-28zM1224.1 147.2l14 26.4h-28zM1225.1 145.8l14 26.4h-28zM1226.1 144.4l14 26.4h-28zM1227.1 143l14 26.4h-28zM1228.1 141.6l14 26.4h-28zM1229.1 140.2l14 26.4h-28zM1230 138.8l14 26.4h-28zM1231 137.4l14 26.4h-28zM1231.9 136l14 26.4h-28zM1232.9 134.7l14 26.4h-28zM1233.8 133.4l14 26.4h-28zM1235.2 131.5l14 26.4h-28zM1236.5 129.8l14 26.4h-28zM1237.9 128.1l14 26.4h-28zM1239.3 126.6l14 26.4h-28zM1240.6 125.3l14 26.4h-28zM1241.9 124.1l14 26.4h-28zM1243.2 123l14 26.4h-28zM1244.5 122l14 26.4h-28zM1245.8 121l14 26.4h-28zM1247.4 119.7l14 26.4h-28zM1249.1 118.4l14 26.4h-28zM1250.8 117.2l14 26.4h-28zM1252.4 116l14 26.4h-28zM1254 114.7l14 26.4h-28zM1255.5 113.5l14 26.4h-28zM1257.1 112.2l14 26.4h-28zM1258.7 111l14 26.4h-28zM1260.2 109.9l14 26.4h-28zM1261.7 108.7l14 26.4h-28zM1263.2 107.6l14 26.4h-28zM1264.6 106.6l14 26.4h-28zM1266.1 105.6l14 26.4h-28zM1267.5 104.6l14 26.4h-28zM1269 103.7l14 26.4h-28zM1270.4 102.7l14 26.4h-28zM1271.7 101.8l14 26.4h-28zM1273.1 100.9l14 26.4h-28zM1274.5 100l14 26.4h-28zM1275.8 99.2l14 26.4h-28zM1277.5 98.1l14 26.4h-28zM1279.1 97.1l14 26.4h-28zM1280.8 96.1l14 26.4h-28zM1281.4 95.8l14 26.4h-28zM1282.2 95.3l14 26.4h-28zM1283 94.9l14 26.4h-28zM1283.8 94.5l14 26.4h-28zM1284.6 94l14 26.4h-28zM1285.4 93.6l14 26.4h-28zM1286.1 93.3l14 26.4h-28zM1286.9 92.9l14 26.4h-28zM1287.7 92.6l14 26.4h-28zM1288.4 92.2l14 26.4h-28zM1289.2 91.9l14 26.4h-28zM1289.9 91.6l14 26.4h-28zM1290.7 91.3l14 26.4h-28zM1291.4 91l14 26.4h-28zM1292.2 90.7l14 26.4h-28zM1292.9 90.4l14 26.4h-28zM1293.6 90.1l14 26.4h-28zM1294.4 89.9l14 26.4h-28zM1295.1 89.7l14 26.4h-28zM1295.8 89.4l14 26.4h-28zM1296.7 89.2l14 26.4h-28zM1297.5 88.9l14 26.4h-28zM1298.4 88.7l14 26.4h-28zM1299.2 88.5l14 26.4h-28zM1300 88.2l14 26.4h-28zM1300.9 88l14 26.4h-28zM1301.7 87.8l14 26.4h-28zM1302.5 87.6l14 26.4h-28zM1303.3 87.4l14 26.4h-28zM1304.1 87.2l14 26.4h-28zM1304.9 87l14 26.4h-28zM1305.7 86.8l14 26.4h-28zM1306.5 86.6l14 26.4h-28zM1307.3 86.4l14 26.4h-28zM1308.1 86.2l14 26.4h-28zM1308.9 86l14 26.4h-28zM1309.7 85.8l14 26.4h-28zM1310.4 85.7l14 26.4h-28zM1311.2 85.5l14 26.4h-28zM1312 85.3l14 26.4h-28zM1312.7 85.2l14 26.4h-28zM1313.5 85l14 26.4h-28zM1314.2 84.9l14 26.4h-28zM1315 84.8l14 26.4h-28zM1315.7 84.6l14 26.4h-28zM1316.6 84.5l14 26.4h-28zM1317.4 84.3l14 26.4h-28zM1318.2 84.2l14 26.4h-28zM1319.1 84.1l14 26.4h-28zM1319.9 83.9l14 26.4h-28zM1320.8 83.8l14 26.4h-28zM1321.6 83.7l14 26.4h-28zM1322.4 83.6l14 26.4h-28zM1323.2 83.5l14 26.4h-28zM1324 83.4l14 26.4h-28zM1324.8 83.3l14 26.4h-28zM1325.6 83.2l14 26.4h-28zM1326.4 83.1l14 26.4h-28zM1327.2 83l14 26.4h-28zM1328 82.9l14 26.4h-28zM1328.8 82.8l14 26.4h-28zM1329.5 82.7l14 26.4h-28zM1330.3 82.6l14 26.4h-28zM1331.1 82.5l14 26.4h-28zM1331.8 82.4l14 26.4h-28zM1332.6 82.3l14 26.4h-28zM1333.3 82.3l14 26.4h-28zM1334.1 82.2l14 26.4h-28zM1334.9 82.1l14 26.4h-28zM1335.8 82l14 26.4h-28zM1336.6 81.9l14 26.4h-28zM1337.4 81.8l14 26.4h-28zM1338.3 81.7l14 26.4h-28zM1339.1 81.6l14 26.4h-28zM1339.9 81.5l14 26.4h-28zM1340.7 81.4l14 26.4h-28zM1341.5 81.4l14 26.4h-28zM1342.3 81.3l14 26.4h-28zM1343.1 81.2l14 26.4h-28zM1343.9 81.1l14 26.4h-28zM1344.7 81l14 26.4h-28zM1345.5 80.9l14 26.4h-28zM1346.3 80.8l14 26.4h-28zM1347 80.8l14 26.4h-28zM1347.8 80.7l14 26.4h-28zM1348.6 80.6l14 26.4h-28zM1349.3 80.5l14 26.4h-28zM1350.1 80.5l14 26.4h-28zM1350.8 80.4l14 26.4h-28zM1351.7 80.3l14 26.4h-28zM1352.5 80.2l14 26.4h-28zM1353.3 80.1l14 26.4h-28zM1354.1 80l14 26.4h-28zM1355 80l14 26.4h-28zM1355.8 79.9l14 26.4h-28zM1356.6 79.8l14 26.4h-28zM1357.4 79.7l14 26.4h-28zM1358.2 79.7l14 26.4h-28zM1359 79.6l14 26.4h-28zM1359.7 79.5l14 26.4h-28zM1360.5 79.4l14 26.4h-28zM1361.3 79.4l14 26.4h-28zM1362.1 79.3l14 26.4h-28zM1362.8 79.2l14 26.4h-28zM1363.6 79.2l14 26.4h-28zM1364.4 79.1l14 26.4h-28zM1365.1 79l14 26.4h-28zM1365.9 78.9l14 26.4h-28zM1366.7 78.9l14 26.4h-28zM1367.5 78.8l14 26.4h-28zM1368.3 78.7l14 26.4h-28zM1369.2 78.6l14 26.4h-28zM1370 78.6l14 26.4h-28zM1370.8 78.5l14 26.4h-28zM1371.6 78.4l14 26.4h-28zM1372.4 78.3l14 26.4h-28zM1373.1 78.3l14 26.4h-28zM1373.9 78.2l14 26.4h-28zM1374.7 78.1l14 26.4h-28zM1375.5 78.1l14 26.4h-28zM1376.2 78l14 26.4h-28zM1377 77.9l14 26.4h-28zM1377.8 77.9l14 26.4h-28zM1378.5 77.8l14 26.4h-28zM1379.3 77.7l14 26.4h-28zM1380.1 77.7l14 26.4h-28zM1380.9 77.6l14 26.4h-28zM1381.7 77.5l14 26.4h-28zM1382.5 77.5l14 26.4h-28zM1383.3 77.4l14 26.4h-28zM1384.1 77.3l14 26.4h-28zM1384.9 77.3l14 26.4h-28zM1385.7 77.2l14 26.4h-28zM1386.5 77.2l14 26.4h-28zM1387.2 77.1l14 26.4h-28zM1388 77l14 26.4h-28zM1388.8 77l14 26.4h-28zM1389.5 76.9l14 26.4h-28zM1390.3 76.9l14 26.4h-28zM1391.1 76.8l14 26.4h-28zM1391.8 76.8l14 26.4h-28zM1392.6 76.7l14 26.4h-28zM1393.4 76.7l14 26.4h-28zM1394.2 76.7l14 26.4h-28zM1395 76.6l14 26.4h-28zM1395.8 76.6l14 26.4h-28zM1396.6 76.5l14 26.4h-28zM1397.4 76.5l14 26.4h-28zM1398.2 76.5l14 26.4h-28zM1398.9 76.4l14 26.4h-28zM1399.7 76.4l14 26.4h-28zM1400.5 76.3l14 26.4h-28zM1401.2 76.3l14 26.4h-28zM1402 76.3l14 26.4h-28zM1402.7 76.2l14 26.4h-28zM1403.5 76.2l14 26.4h-28zM1404.3 76.1l14 26.4h-28zM1405.1 76.1l14 26.4h-28zM1405.9 76.1l14 26.4h-28zM1406.7 76l14 26.4h-28zM1407.5 76l14 26.4h-28zM1408.3 75.9l14 26.4h-28zM1409.1 75.9l14 26.4h-28zM1409.8 75.9l14 26.4h-28zM1410.6 75.8l14 26.4h-28zM1411.3 75.8l14 26.4h-28zM1412.1 75.7l14 26.4h-28zM1412.9 75.7l14 26.4h-28zM1413.7 75.7l14 26.4h-28zM1414.5 75.6l14 26.4h-28zM1415.3 75.6l14 26.4h-28zM1416 75.5l14 26.4h-28zM1416.8 75.5l14 26.4h-28zM1417.6 75.5l14 26.4h-28zM1418.4 75.4l14 26.4h-28zM1419.1 75.4l14 26.4h-28zM1419.9 75.4l14 26.4h-28zM1420.7 75.3l14 26.4h-28zM1421.4 75.3l14 26.4h-28zM1422.2 75.3l14 26.4h-28zM1423 75.2l14 26.4h-28zM1423.8 75.2l14 26.4h-28zM1424.6 75.2l14 26.4h-28zM1425.4 75.1l14 26.4h-28zM1426.1 75.1l14 26.4h-28zM1426.9 75.1l14 26.4h-28zM1427.7 75l14 26.4h-28zM1428.5 75l14 26.4h-28zM1429.2 75l14 26.4h-28zM1430 74.9l14 26.4h-28zM1430.7 74.9l14 26.4h-28zM1431.5 74.9l14 26.4h-28zM1432.3 74.8l14 26.4h-28zM1433.1 74.8l14 26.4h-28zM1433.8 74.8l14 26.4h-28zM1434.6 74.8l14 26.4h-28zM1435.4 74.7l14 26.4h-28zM1436.2 74.7l14 26.4h-28zM1436.9 74.7l14 26.4h-28zM1437.7 74.7l14 26.4h-28zM1438.5 74.6l14 26.4h-28zM1439.2 74.6l14 26.4h-28zM1440 74.6l14 26.4h-28zM1440.8 74.6l14 26.4h-28zM1441.6 74.5l14 26.4h-28zM1442.4 74.5l14 26.4h-28zM1443.1 74.5l14 26.4h-28zM1443.9 74.5l14 26.4h-28zM1444.7 74.5l14 26.4h-28zM1445.4 74.4l14 26.4h-28zM1446.2 74.4l14 26.4h-28zM1446.9 74.4l14 26.4h-28zM1447.7 74.4l14 26.4h-28zM1448.5 74.4l14 26.4h-28zM1449.3 74.4l14 26.4h-28zM1450.1 74.4l14 26.4h-28zM1450.9 74.3l14 26.4h-28zM1451.6 74.3l14 26.4h-28zM1452.4 74.3l14 26.4h-28zM1453.2 74.3l14 26.4h-28zM1453.9 74.3l14 26.4h-28zM1454.7 74.3l14 26.4h-28zM1455.4 74.3l14 26.4h-28zM1456.2 74.3l14 26.4h-28zM1457 74.3l14 26.4h-28zM1457.8 74.3l14 26.4h-28zM1458.6 74.3l14 26.4h-28zM1459.3 74.2l14 26.4h-28zM1460.1 74.2l14 26.4h-28zM1460.8 74.2l14 26.4h-28zM1461.6 74.2l14 26.4h-28zM1462.4 74.2l14 26.4h-28zM1463.1 74.2l14 26.4h-28zM1463.9 74.2l14 26.4h-28zM1464.7 74.2l14 26.4h-28zM1465.5 74.2l14 26.4h-28zM1466.2 74.2l14 26.4h-28zM1467 74.2l14 26.4h-28zM1467.7 74.2l14 26.4h-28zM1468.5 74.2l14 26.4h-28zM1469.3 74.2l14 26.4h-28zM1470.1 74.2l14 26.4h-28zM1470.9 74.2l14 26.4h-28zM1471.6 74.2l14 26.4h-28zM1472.4 74.2l14 26.4h-28zM1473.1 74.2l14 26.4h-28zM1473.9 74.2l14 26.4h-28zM1474.7 74.2l14 26.4h-28zM1475.5 74.2l14 26.4h-28zM1476.2 74.2l14 26.4h-28zM1477 74.2l14 26.4h-28zM1477.8 74.2l14 26.4h-28zM1478.5 74.2l14 26.4h-28zM1479.3 74.2l14 26.4h-28zM1480 74.2l14 26.4h-28zM1480.8 74.2l14 26.4h-28zM1481.6 74.2l14 26.4h-28zM1482.4 74.2l14 26.4h-28zM1483.1 74.2l14 26.4h-28zM1483.9 74.2l14 26.4h-28zM1484.7 74.2l14 26.4h-28zM1485.4 74.2l14 26.4h-28zM1486.2 74.2l14 26.4h-28zM1487 74.2l14 26.4h-28zM1487.7 74.2l14 26.4h-28zM1488.5 74.2l14 26.4h-28zM1489.3 74.2l14 26.4h-28zM1490 74.2l14 26.4h-28zM1490.8 74.2l14 26.4h-28zM1491.5 74.2l14 26.4h-28zM1492.3 74.2l14 26.4h-28zM1493.1 74.2l14 26.4h-28zM1493.8 74.2l14 26.4h-28zM1494.6 74.2l14 26.4h-28zM1495.4 74.2l14 26.4h-28zM1496.1 74.2l14 26.4h-28zM1496.9 74.2l14 26.4h-28zM1497.7 74.2l14 26.4h-28zM1498.4 74.2l14 26.4h-28zM1499.2 74.2l14 26.4h-28zM1500 74.2l14 26.4h-28zM1500.7 74.2l14 26.4h-28zM1501.5 74.2l14 26.4h-28zM1502.2 74.2l14 26.4h-28zM1503 74.2l14 26.4h-28zM1503.8 74.2l14 26.4h-28zM1504.5 74.2l14 26.4h-28zM1505.3 74.2l14 26.4h-28zM1506.1 74.2l14 26.4h-28zM1506.8 74.2l14 26.4h-28zM1507.6 74.2l14 26.4h-28zM1508.3 74.2l14 26.4h-28zM1509.1 74.2l14 26.4h-28zM1509.9 74.2l14 26.4h-28zM1510.6 74.2l14 26.4h-28zM1511.4 74.2l14 26.4h-28zM1512.2 74.2l14 26.4h-28zM1512.9 74.2l14 26.4h-28zM1513.7 74.2l14 26.4h-28zM1514.4 74.2l14 26.4h-28zM1515.2 74.2l14 26.4h-28zM1515.9 74.2l14 26.4h-28zM1516.7 74.2l14 26.4h-28zM1517.5 74.2l14 26.4h-28zM1518.2 74.2l14 26.4h-28zM1519 74.2l14 26.4h-28zM1519.8 74.2l14 26.4h-28zM1520.5 74.2l14 26.4h-28zM1521.3 74.2l14 26.4h-28zM1522.1 74.2l14 26.4h-28zM1522.8 74.2l14 26.4h-28zM1523.6 74.2l14 26.4h-28zM1524.3 74.2l14 26.4h-28zM1525.1 74.2l14 26.4h-28zM1525.9 74.2l14 26.4h-28zM1526.6 74.2l14 26.4h-28zM1527.4 74.2l14 26.4h-28zM1528.1 74.2l14 26.4h-28zM1528.9 74.2l14 26.4h-28zM1529.7 74.2l14 26.4h-28zM1530.4 74.2l14 26.4h-28zM1531.2 74.2l14 26.4h-28zM1532 74.2l14 26.4h-28zM1532.7 74.2l14 26.4h-28zM1533.5 74.2l14 26.4h-28zM1534.3 74.2l14 26.4h-28zM1535 74.2l14 26.4h-28zM1535.8 74.2l14 26.4h-28zM1536.5 74.2l14 26.4h-28zM1537.3 74.2l14 26.4h-28zM1538.1 74.2l14 26.4h-28zM1538.8 74.2l14 26.4h-28zM1539.6 74.1l14 26.4h-28zM1540.4 74.1l14 26.4h-28zM1541.1 74.1l14 26.4h-28zM1541.9 74.1l14 26.4h-28zM1542.6 74.1l14 26.4h-28zM1543.4 74.1l14 26.4h-28zM1544.2 74.1l14 26.4h-28zM1544.9 74.1l14 26.4h-28zM1545.7 74.1l14 26.4h-28zM1546.4 74.1l14 26.4h-28zM1547.2 74.1l14 26.4h-28zM1548 74.1l14 26.4h-28zM1548.7 74.1l14 26.4h-28zM1549.5 74.1l14 26.4h-28zM1550.2 74.1l14 26.4h-28zM1551 74.1l14 26.4h-28zM1551.8 74.1l14 26.4h-28zM1552.5 74.1l14 26.4h-28zM1553.3 74.1l14 26.4h-28zM1554 74.1l14 26.4h-28zM1554.8 74.1l14 26.4h-28zM1555.6 74.1l14 26.4h-28zM1556.3 74.1l14 26.4h-28zM1557.1 74.1l14 26.4h-28zM1557.8 74.1l14 26.4h-28zM1558.6 74.1l14 26.4h-28zM1559.3 74.1l14 26.4h-28zM1560.1 74.1l14 26.4h-28zM1560.9 74.1l14 26.4h-28zM1561.6 74.1l14 26.4h-28zM1562.4 74.1l14 26.4h-28zM1563.1 74.1l14 26.4h-28zM1563.9 74.1l14 26.4h-28zM1564.7 74.1l14 26.4h-28zM1565.4 74.1l14 26.4h-28zM1566.2 74.1l14 26.4h-28zM1566.9 74.1l14 26.4h-28zM1567.7 74.1l14 26.4h-28zM1568.5 74.1l14 26.4h-28zM1569.2 74.1l14 26.4h-28zM1570 74.1l14 26.4h-28zM1572.6 74.1l14 26.4h-28zM1576.4 74.1l14 26.4h-28zM1580.2 74.1l14 26.4h-28zM1584 74.1l14 26.4h-28zM1588.7 74.1l14 26.4h-28zM1592.5 74.1l14 26.4h-28zM1596.3 74.1l14 26.4h-28zM1601 74.1l14 26.4h-28zM1605.8 74.1l14 26.4h-28zM1613.3 74.1l14 26.4h-28zM1625.6 74.1l14 26.4h-28zM1666.3 74l14 26.4h-28zM1695.7 74l14 26.4h-28zM1719.9 74l14 26.4h-28zM1739.5 74l14 26.4h-28zM1758 74l14 26.4h-28zM1773.2 74l14 26.4h-28zM1787.8 74l14 26.4h-28zM1800 74l14 26.4h-28zM1811.8 74l14 26.4h-28zM1821.8 74l14 26.4h-28zM919.7 848l14 26.4h-28zM975.5 734.3l14 26.4h-28zM1010.2 660.3l14 26.4h-28zM1035.7 597.1l14 26.4h-28zM1058.3 547.2l14 26.4h-28zM1074.3 502.3l14 26.4h-28zM1088 465l14 26.4h-28zM1101.3 429.6l14 26.4h-28zM1112.8 403.6l14 26.4h-28zM1121.5 376.7l14 26.4h-28z" fill="#ff0080"/>
<path d="M876.4 945.7 916.2 866.2 952.8 808 955.8 802.5 958.8 796.8 961.8 791 964.8 785.1 967.8 779 970.8 772.7 973.8 766.4 976.8 760 979.8 753.5 982.8 746.9 985.8 740.3 988.8 733.6 991.8 726.9 994.8 720.2 997.8 713.4 1000.8 706.4 1003.8 699.3 1006.8 692.1 1009.8 684.8 1012.8 677.5 1015.8 670.1 1018.8 662.8 1021.8 655.6 1024.8 648.4 1027.8 641.4 1030.8 634.4 1033.8 627.5 1036.8 620.6 1039.8 613.6 1042.8 606.5 1045.8 599.2 1048.8 591.7 1051.8 583.8 1054.8 575.6 1057.8 567.2 1060.8 558.8 1063.8 550.4 1066.8 542.4 1069.8 534.6 1072.8 527 1075.8 519.5 1078.8 511.9 1081.8 504.3 1084.8 496.6 1087.8 489.2 1090.8 481.7 1093.8 473.7 1096.8 465 1099.8 454.4 1102.8 443 1105.8 432.9 1108.8 425.2 1111.8 418.7 1114.8 412.5 1117.8 406 1120.8 398.5 1123.8 390.6 1126.8 382.3 1129.8 373.8 1132.8 364.8 1135.8 355.8 1138.8 347.2 1141.8 338.7 1144.8 330.7 1147.8 323.4 1150.8 316.2 1153.8 307.8 1156.8 298.1 1159.8 289.6 1162.8 282.6 1165.8 275.7 1168.8 268.1 1171.8 260.7 1174.8 254.6 1177.8 248.8 1180.8 242.6 1183.8 236.2 1186.8 229.7 1189.8 223.1 1192.8 216.3 1195.8 209.2 1198.8 201.9 1201.8 194.9 1204.8 188.4 1207.8 182.9 1210.8 177.7 1213.8 172.9 1216.8 168.3 1219.8 163.9 1222.8 159.6 1225.8 155.3 1228.8 151 1231.8 146.6 1234.8 142.5 1237.8 138.7 1240.8 135.5 1243.8 132.9 1246.8 130.7 1249.8 128.7 1252.8 126.8 1255.8 124.9 1258.8 123.1 1261.8 121.3 1264.8 119.6 1267.8 117.9 1270.8 116.3 1273.8 114.8 1276.8 113.4 1279.8 112 1282.8 110.7 1285.8 109.5 1288.8 108.4 1291.8 107.4 1294.8 106.5 1297.8 105.7 1300.8 104.9 1303.8 104.1 1306.8 103.4 1309.8 102.8 1312.8 102.2 1315.8 101.6 1318.8 101.2 1321.8 100.8 1324.8 100.4 1327.8 100 1330.8 99.7 1333.8 99.4 1336.8 99.1 1339.8 98.8 1342.8 98.5 1345.8 98.2 1348.8 97.9 1351.8 97.6 1354.8 97.3 1357.8 97 1360.8 96.8 1363.8 96.5 1366.8 96.2 1369.8 96 1372.8 95.7 1375.8 95.4 1378.8 95.2 1381.8 94.9 1384.8 94.7 1387.8 94.5 1390.8 94.3 1393.8 94.1 1396.8 94 1399.8 93.8 1402.8 93.7 1405.8 93.5 1408.8 93.4 1411.8 93.2 1414.8 93.1 1417.8 92.9 1420.8 92.8 1423.8 92.7 1426.8 92.5 1429.8 92.4 1432.8 92.3 1435.8 92.2 1438.8 92.1 1441.8 92 1444.8 92 1447.8 91.9 1450.8 91.9 1453.8 91.8 1456.8 91.8 1459.8 91.8 1462.8 91.8 1465.8 91.8 1468.8 91.8 1471.8 91.8 1474.8 91.8 1477.8 91.8 1480.8 91.8 1483.8 91.8 1486.8 91.8 1489.8 91.8 1492.8 91.8 1495.8 91.8 1498.8 91.8 1501.8 91.8 1504.8 91.8 1507.8 91.8 1510.8 91.8 1513.8 91.8 1516.8 91.8 1519.8 91.8 1522.8 91.8 1525.8 91.8 1528.8 91.8 1531.8 91.8 1534.8 91.8 1537.8 91.8 1540.8 91.8 1543.8 91.8 1546.8 91.8 1549.8 91.8 1552.8 91.8 1555.8 91.8 1558.8 91.8 1561.8 91.8 1564.8 91.8 1567.8 91.8 1570.8 91.8 1573.8 91.8 1576.8 91.8 1579.8 91.8 1582.8 91.8 1585.8 91.8 1588.8 91.8 1591.8 91.8 1594.8 91.8 1597.8 91.8 1600.8 91.8 1603.8 91.8 1606.8 91.8 1609.8 91.8 1612.8 91.8 1615.8 91.8 1618.8 91.8 1621.8 91.8 1624.8 91.8 1627.8 91.8 1630.8 91.8 1633.8 91.8 1636.8 91.8 1639.8 91.8 1642.8 91.8 1645.8 91.8 1648.8 91.8 1651.8 91.8 1654.8 91.8 1657.8 91.8 1660.8 91.8 1663.8 91.8 1666.8 91.8 1669.8 91.8 1672.8 91.8 1675.8 91.8 1678.8 91.8 1681.8 91.8 1684.8 91.8 1687.8 91.8 1690.8 91.8 1693.8 91.8 1696.8 91.8 1699.8 91.8 1702.8 91.8 1705.8 91.8 1708.8 91.8 1711.8 91.8 1714.8 91.8 1717.8 91.8 1720.8 91.8 1723.8 91.8 1726.8 91.8 1729.8 91.8 1732.8 91.8 1735.8 91.8 1738.8 91.8 1741.8 91.8 1744.8 91.8 1747.8 91.8 1750.8 91.8 1753.8 91.8 1756.8 91.8 1759.8 91.8 1762.8 91.8 1765.8 91.8 1768.8 91.8 1771.8 91.8 1774.8 91.8 1777.8 91.8 1780.8 91.8 1783.8 91.8 1786.8 91.8 1789.8 91.8 1792.8 91.8 1795.8 91.8 1798.8 91.8 1801.8 91.8 1804.8 91.8 1807.8 91.8 1810.8 91.8 1813.8 91.8 1816.8 91.8 1819.8 91.8 1822.8 91.8 1825.8 91.8 1828.8 91.8 1831.8 91.8 1834.8 91.8 1837.8 91.8 1840.8 91.8 1843.8 91.8 1846.8 91.8 1849.8 91.8 1852.8 91.8 1855.8 91.8 1858.8 91.8 1861.8 91.8 1864.8 91.8 1867.8 91.8 1870.8 91.8 1873.8 91.8 1876.8 91.8 1879.8 91.8 1882.8 91.8 1885.8 91.8 1888.8 91.8 1891.8 91.8 1894.8 91.8 1897.8 91.8 1900.8 91.8 1903.8 91.8 1906.8 91.8 1909.8 91.8 1911.5 91.8" fill="none" stroke="#008000" stroke-width="7.8" stroke-linejoin="round"/>
<path d="M863.7 945.7a12.7 13.4 0 1 0 25.4 0a12.7 13.4 0 1 0 -25.4 0zM940.1 808a12.7 13.4 0 1 0 25.4 0a12.7 13.4 0 1 0 -25.4 0zM982.1 720.2a12.7 13.4 0 1 0 25.4 0a12.7 13.4 0 1 0 -25.4 0zM1011.6 649.6a12.7 13.4 0 1 0 25.4 0a12.7 13.4 0 1 0 -25.4 0zM1035.9 592.2a12.7 13.4 0 1 0 25.4 0a12.7 13.4 0 1 0 -25.4 0zM1053.5 544a12.7 13.4 0 1 0 25.4 0a12.7 13.4 0 1 0 -25.4 0zM1069.9 502.2a12.7 13.4 0 1 0 25.4 0a12.7 13.4 0 1 0 -25.4 0zM1083.7 466.2a12.7 13.4 0 1 0 25.4 0a12.7 13.4 0 1 0 -25.4 0zM1093.5 431.8a12.7 13.4 0 1 0 25.4 0a12.7 13.4 0 1 0 -25.4 0zM1105.8 404.3a12.7 13.4 0 1 0 25.4 0a12.7 13.4 0 1 0 -25.4 0zM1115.8 377.5a12.7 13.4 0 1 0 25.4 0a12.7 13.4 0 1 0 -25.4 0zM1123.8 353.8a12.7 13.4 0 1 0 25.4 0a12.7 13.4 0 1 0 -25.4 0zM1131.7 331.7a12.7 13.4 0 1 0 25.4 0a12.7 13.4 0 1 0 -25.4 0zM1139.7 312a12.7 13.4 0 1 0 25.4 0a12.7 13.4 0 1 0 -25.4 0zM1145.8 293a12.7 13.4 0 1 0 25.4 0a12.7 13.4 0 1 0 -25.4 0zM1153.3 275.2a12.7 13.4 0 1 0 25.4 0a12.7 13.4 0 1 0 -25.4 0zM1159.4 260a12.7 13.4 0 1 0 25.4 0a12.7 13.4 0 1 0 -25.4 0zM1165.6 247.9a12.7 13.4 0 1 0 25.4 0a12.7 13.4 0 1 0 -25.4 0zM1171.4 235.5a12.7 13.4 0 1 0 25.4 0a12.7 13.4 0 1 0 -25.4 0zM1177.1 223.1a12.7 13.4 0 1 0 25.4 0a12.7 13.4 0 1 0 -25.4 0zM1182.5 210.8a12.7 13.4 0 1 0 25.4 0a12.7 13.4 0 1 0 -25.4 0zM1187.6 198.3a12.7 13.4 0 1 0 25.4 0a12.7 13.4 0 1 0 -25.4 0zM1192.6 187.5a12.7 13.4 0 1 0 25.4 0a12.7 13.4 0 1 0 -25.4 0zM1197.4 178.9a12.7 13.4 0 1 0 25.4 0a12.7 13.4 0 1 0 -25.4 0zM1202 171.5a12.7 13.4 0 1 0 25.4 0a12.7 13.4 0 1 0 -25.4 0zM1206.5 164.8a12.7 13.4 0 1 0 25.4 0a12.7 13.4 0 1 0 -25.4 0zM1210.8 158.6a12.7 13.4 0 1 0 25.4 0a12.7 13.4 0 1 0 -25.4 0zM1214.9 152.7a12.7 13.4 0 1 0 25.4 0a12.7 13.4 0 1 0 -25.4 0zM1219 146.8a12.7 13.4 0 1 0 25.4 0a12.7 13.4 0 1 0 -25.4 0zM1222.9 141.4a12.7 13.4 0 1 0 25.4 0a12.7 13.4 0 1 0 -25.4 0zM1226.7 136.9a12.7 13.4 0 1 0 25.4 0a12.7 13.4 0 1 0 -25.4 0zM1230.4 133.6a12.7 13.4 0 1 0 25.4 0a12.7 13.4 0 1 0 -25.4 0zM1233.9 130.8a12.7 13.4 0 1 0 25.4 0a12.7 13.4 0 1 0 -25.4 0zM1237.4 128.5a12.7 13.4 0 1 0 25.4 0a12.7 13.4 0 1 0 -25.4 0zM1240.8 126.3a12.7 13.4 0 1 0 25.4 0a12.7 13.4 0 1 0 -25.4 0zM1244.1 124.3a12.7 13.4 0 1 0 25.4 0a12.7 13.4 0 1 0 -25.4 0zM1247.3 122.3a12.7 13.4 0 1 0 25.4 0a12.7 13.4 0 1 0 -25.4 0zM1250.5 120.5a12.7 13.4 0 1 0 25.4 0a12.7 13.4 0 1 0 -25.4 0zM1253.6 118.7a12.7 13.4 0 1 0 25.4 0a12.7 13.4 0 1 0 -25.4 0zM1256.6 117.1a12.7 13.4 0 1 0 25.4 0a12.7 13.4 0 1 0 -25.4 0zM1259.5 115.6a12.7 13.4 0 1 0 25.4 0a12.7 13.4 0 1 0 -25.4 0zM1262.4 114.2a12.7 13.4 0 1 0 25.4 0a12.7 13.4 0 1 0 -25.4 0zM1265.2 112.9a12.7 13.4 0 1 0 25.4 0a12.7 13.4 0 1 0 -25.4 0zM1267.9 111.6a12.7 13.4 0 1 0 25.4 0a12.7 13.4 0 1 0 -25.4 0zM1270.6 110.5a12.7 13.4 0 1 0 25.4 0a12.7 13.4 0 1 0 -25.4 0zM1273.2 109.4a12.7 13.4 0 1 0 25.4 0a12.7 13.4 0 1 0 -25.4 0zM1275.8 108.5a12.7 13.4 0 1 0 25.4 0a12.7 13.4 0 1 0 -25.4 0zM1278.3 107.7a12.7 13.4 0 1 0 25.4 0a12.7 13.4 0 1 0 -25.4 0zM1280.8 106.9a12.7 13.4 0 1 0 25.4 0a12.7 13.4 0 1 0 -25.4 0zM1283.2 106.2a12.7 13.4 0 1 0 25.4 0a12.7 13.4 0 1 0 -25.4 0zM1285.6 105.5a12.7 13.4 0 1 0 25.4 0a12.7 13.4 0 1 0 -25.4 0zM1287.9 104.9a12.7 13.4 0 1 0 25.4 0a12.7 13.4 0 1 0 -25.4 0zM1290.2 104.4a12.7 13.4 0 1 0 25.4 0a12.7 13.4 0 1 0 -25.4 0zM1292.5 103.8a12.7 13.4 0 1 0 25.4 0a12.7 13.4 0 1 0 -25.4 0zM1294.7 103.3a12.7 13.4 0 1 0 25.4 0a12.7 13.4 0 1 0 -25.4 0zM1296.9 102.8a12.7 13.4 0 1 0 25.4 0a12.7 13.4 0 1 0 -25.4 0zM1299 102.4a12.7 13.4 0 1 0 25.4 0a12.7 13.4 0 1 0 -25.4 0zM1301.2 102a12.7 13.4 0 1 0 25.4 0a12.7 13.4 0 1 0 -25.4 0zM1303.2 101.6a12.7 13.4 0 1 0 25.4 0a12.7 13.4 0 1 0 -25.4 0zM1305.3 101.3a12.7 13.4 0 1 0 25.4 0a12.7 13.4 0 1 0 -25.4 0zM1307.3 101a12.7 13.4 0 1 0 25.4 0a12.7 13.4 0 1 0 -25.4 0zM1309.3 100.7a12.7 13.4 0 1 0 25.4 0a12.7 13.4 0 1 0 -25.4 0zM1311.2 100.5a12.7 13.4 0 1 0 25.4 0a12.7 13.4 0 1 0 -25.4 0zM1313.1 100.3a12.7 13.4 0 1 0 25.4 0a12.7 13.4 0 1 0 -25.4 0zM1315 100a12.7 13.4 0 1 0 25.4 0a12.7 13.4 0 1 0 -25.4 0zM1316.9 99.8a12.7 13.4 0 1 0 25.4 0a12.7 13.4 0 1 0 -25.4 0zM1318.7 99.6a12.7 13.4 0 1 0 25.4 0a12.7 13.4 0 1 0 -25.4 0zM1320.5 99.5a12.7 13.4 0 1 0 25.4 0a12.7 13.4 0 1 0 -25.4 0zM1322.3 99.3a12.7 13.4 0 1 0 25.4 0a12.7 13.4 0 1 0 -25.4 0zM1324.1 99.1a12.7 13.4 0 1 0 25.4 0a12.7 13.4 0 1 0 -25.4 0zM1325.8 98.9a12.7 13.4 0 1 0 25.4 0a12.7 13.4 0 1 0 -25.4 0zM1327.5 98.7a12.7 13.4 0 1 0 25.4 0a12.7 13.4 0 1 0 -25.4 0zM1329.2 98.6a12.7 13.4 0 1 0 25.4 0a12.7 13.4 0 1 0 -25.4 0zM1330.9 98.4a12.7 13.4 0 1 0 25.4 0a12.7 13.4 0 1 0 -25.4 0zM1332.6 98.2a12.7 13.4 0 1 0 25.4 0a12.7 13.4 0 1 0 -25.4 0zM1334.2 98.1a12.7 13.4 0 1 0 25.4 0a12.7 13.4 0 1 0 -25.4 0zM1335.8 97.9a12.7 13.4 0 1 0 25.4 0a12.7 13.4 0 1 0 -25.4 0zM1339 97.6a12.7 13.4 0 1 0 25.4 0a12.7 13.4 0 1 0 -25.4 0zM1342 97.3a12.7 13.4 0 1 0 25.4 0a12.7 13.4 0 1 0 -25.4 0zM1345 97a12.7 13.4 0 1 0 25.4 0a12.7 13.4 0 1 0 -25.4 0zM1348 96.8a12.7 13.4 0 1 0 25.4 0a12.7 13.4 0 1 0 -25.4 0zM1350.9 96.5a12.7 13.4 0 1 0 25.4 0a12.7 13.4 0 1 0 -25.4 0zM1353.7 96.3a12.7 13.4 0 1 0 25.4 0a12.7 13.4 0 1 0 -25.4 0zM1356.4 96a12.7 13.4 0 1 0 25.4 0a12.7 13.4 0 1 0 -25.4 0zM1359.1 95.8a12.7 13.4 0 1 0 25.4 0a12.7 13.4 0 1 0 -25.4 0zM1361.7 95.5a12.7 13.4 0 1 0 25.4 0a12.7 13.4 0 1 0 -25.4 0zM1364.3 95.3a12.7 13.4 0 1 0 25.4 0a12.7 13.4 0 1 0 -25.4 0zM1366.9 95.1a12.7 13.4 0 1 0 25.4 0a12.7 13.4 0 1 0 -25.4 0zM1369.3 94.9a12.7 13.4 0 1 0 25.4 0a12.7 13.4 0 1 0 -25.4 0zM1371.8 94.7a12.7 13.4 0 1 0 25.4 0a12.7 13.4 0 1 0 -25.4 0zM1374.2 94.5a12.7 13.4 0 1 0 25.4 0a12.7 13.4 0 1 0 -25.4 0zM1376.5 94.4a12.7 13.4 0 1 0 25.4 0a12.7 13.4 0 1 0 -25.4 0zM1378.8 94.2a12.7 13.4 0 1 0 25.4 0a12.7 13.4 0 1 0 -25.4 0zM1381.1 94.1a12.7 13.4 0 1 0 25.4 0a12.7 13.4 0 1 0 -25.4 0zM1383.3 94a12.7 13.4 0 1 0 25.4 0a12.7 13.4 0 1 0 -25.4 0zM1385.5 93.9a12.7 13.4 0 1 0 25.4 0a12.7 13.4 0 1 0 -25.4 0zM1387.7 93.8a12.7 13.4 0 1 0 25.4 0a12.7 13.4 0 1 0 -25.4 0zM1389.8 93.7a12.7 13.4 0 1 0 25.4 0a12.7 13.4 0 1 0 -25.4 0zM1391.9 93.6a12.7 13.4 0 1 0 25.4 0a12.7 13.4 0 1 0 -25.4 0zM1393.9 93.5a12.7 13.4 0 1 0 25.4 0a12.7 13.4 0 1 0 -25.4 0zM1395.9 93.4a12.7 13.4 0 1 0 25.4 0a12.7 13.4 0 1 0 -25.4 0zM1397.9 93.3a12.7 13.4 0 1 0 25.4 0a12.7 13.4 0 1 0 -25.4 0zM1399.9 93.2a12.7 13.4 0 1 0 25.4 0a12.7 13.4 0 1 0 -25.4 0zM1401.8 93.1a12.7 13.4 0 1 0 25.4 0a12.7 13.4 0 1 0 -25.4 0zM1403.7 93a12.7 13.4 0 1 0 25.4 0a12.7 13.4 0 1 0 -25.4 0zM1405.6 92.9a12.7 13.4 0 1 0 25.4 0a12.7 13.4 0 1 0 -25.4 0zM1407.4 92.8a12.7 13.4 0 1 0 25.4 0a12.7 13.4 0 1 0 -25.4 0zM1409.2 92.7a12.7 13.4 0 1 0 25.4 0a12.7 13.4 0 1 0 -25.4 0zM1411 92.7a12.7 13.4 0 1 0 25.4 0a12.7 13.4 0 1 0 -25.4 0zM1412.8 92.6a12.7 13.4 0 1 0 25.4 0a12.7 13.4 0 1 0 -25.4 0zM1414.5 92.5a12.7 13.4 0 1 0 25.4 0a12.7 13.4 0 1 0 -25.4 0zM1416.2 92.5a12.7 13.4 0 1 0 25.4 0a12.7 13.4 0 1 0 -25.4 0zM1417.9 92.4a12.7 13.4 0 1 0 25.4 0a12.7 13.4 0 1 0 -25.4 0zM1419.6 92.3a12.7 13.4 0 1 0 25.4 0a12.7 13.4 0 1 0 -25.4 0zM1421.3 92.3a12.7 13.4 0 1 0 25.4 0a12.7 13.4 0 1 0 -25.4 0zM1422.9 92.2a12.7 13.4 0 1 0 25.4 0a12.7 13.4 0 1 0 -25.4 0zM1424.5 92.2a12.7 13.4 0 1 0 25.4 0a12.7 13.4 0 1 0 -25.4 0zM1426.9 92.1a12.7 13.4 0 1 0 25.4 0a12.7 13.4 0 1 0 -25.4 0zM1429.2 92a12.7 13.4 0 1 0 25.4 0a12.7 13.4 0 1 0 -25.4 0zM1431.5 92a12.7 13.4 0 1 0 25.4 0a12.7 13.4 0 1 0 -25.4 0zM1433.8 91.9a12.7 13.4 0 1 0 25.4 0a12.7 13.4 0 1 0 -25.4 0zM1436 91.9a12.7 13.4 0 1 0 25.4 0a12.7 13.4 0 1 0 -25.4 0zM1438.2 91.9a12.7 13.4 0 1 0 25.4 0a12.7 13.4 0 1 0 -25.4 0zM1440.3 91.8a12.7 13.4 0 1 0 25.4 0a12.7 13.4 0 1 0 -25.4 0zM1442.4 91.8a12.7 13.4 0 1 0 25.4 0a12.7 13.4 0 1 0 -25.4 0zM1444.5 91.8a12.7 13.4 0 1 0 25.4 0a12.7 13.4 0 1 0 -25.4 0zM1446.5 91.8a12.7 13.4 0 1 0 25.4 0a12.7 13.4 0 1 0 -25.4 0zM1448.5 91.8a12.7 13.4 0 1 0 25.4 0a12.7 13.4 0 1 0 -25.4 0zM1450.5 91.8a12.7 13.4 0 1 0 25.4 0a12.7 13.4 0 1 0 -25.4 0zM1452.4 91.8a12.7 13.4 0 1 0 25.4 0a12.7 13.4 0 1 0 -25.4 0zM1454.4 91.8a12.7 13.4 0 1 0 25.4 0a12.7 13.4 0 1 0 -25.4 0zM1456.2 91.8a12.7 13.4 0 1 0 25.4 0a12.7 13.4 0 1 0 -25.4 0zM1458.1 91.8a12.7 13.4 0 1 0 25.4 0a12.7 13.4 0 1 0 -25.4 0zM1459.9 91.8a12.7 13.4 0 1 0 25.4 0a12.7 13.4 0 1 0 -25.4 0zM1461.8 91.8a12.7 13.4 0 1 0 25.4 0a12.7 13.4 0 1 0 -25.4 0zM1463.5 91.8a12.7 13.4 0 1 0 25.4 0a12.7 13.4 0 1 0 -25.4 0zM1465.3 91.8a12.7 13.4 0 1 0 25.4 0a12.7 13.4 0 1 0 -25.4 0zM1467 91.8a12.7 13.4 0 1 0 25.4 0a12.7 13.4 0 1 0 -25.4 0zM1468.7 91.8a12.7 13.4 0 1 0 25.4 0a12.7 13.4 0 1 0 -25.4 0zM1470.4 91.8a12.7 13.4 0 1 0 25.4 0a12.7 13.4 0 1 0 -25.4 0zM1472.1 91.8a12.7 13.4 0 1 0 25.4 0a12.7 13.4 0 1 0 -25.4 0zM1473.7 91.8a12.7 13.4 0 1 0 25.4 0a12.7 13.4 0 1 0 -25.4 0zM1475.4 91.8a12.7 13.4 0 1 0 25.4 0a12.7 13.4 0 1 0 -25.4 0zM1477 91.8a12.7 13.4 0 1 0 25.4 0a12.7 13.4 0 1 0 -25.4 0zM1479.1 91.8a12.7 13.4 0 1 0 25.4 0a12.7 13.4 0 1 0 -25.4 0zM1481.2 91.8a12.7 13.4 0 1 0 25.4 0a12.7 13.4 0 1 0 -25.4 0zM1483.2 91.8a12.7 13.4 0 1 0 25.4 0a12.7 13.4 0 1 0 -25.4 0zM1485.2 91.8a12.7 13.4 0 1 0 25.4 0a12.7 13.4 0 1 0 -25.4 0zM1487.2 91.8a12.7 13.4 0 1 0 25.4 0a12.7 13.4 0 1 0 -25.4 0zM1489.1 91.8a12.7 13.4 0 1 0 25.4 0a12.7 13.4 0 1 0 -25.4 0zM1491.1 91.8a12.7 13.4 0 1 0 25.4 0a12.7 13.4 0 1 0 -25.4 0zM1493 91.8a12.7 13.4 0 1 0 25.4 0a12.7 13.4 0 1 0 -25.4 0zM1494.8 91.8a12.7 13.4 0 1 0 25.4 0a12.7 13.4 0 1 0 -25.4 0zM1496.7 91.8a12.7 13.4 0 1 0 25.4 0a12.7 13.4 0 1 0 -25.4 0zM1498.5 91.8a12.7 13.4 0 1 0 25.4 0a12.7 13.4 0 1 0 -25.4 0zM1500.3 91.8a12.7 13.4 0 1 0 25.4 0a12.7 13.4 0 1 0 -25.4 0zM1502 91.8a12.7 13.4 0 1 0 25.4 0a12.7 13.4 0 1 0 -25.4 0zM1503.8 91.8a12.7 13.4 0 1 0 25.4 0a12.7 13.4 0 1 0 -25.4 0zM1505.5 91.8a12.7 13.4 0 1 0 25.4 0a12.7 13.4 0 1 0 -25.4 0zM1507.2 91.8a12.7 13.4 0 1 0 25.4 0a12.7 13.4 0 1 0 -25.4 0zM1508.8 91.8a12.7 13.4 0 1 0 25.4 0a12.7 13.4 0 1 0 -25.4 0zM1510.5 91.8a12.7 13.4 0 1 0 25.4 0a12.7 13.4 0 1 0 -25.4 0zM1512.1 91.8a12.7 13.4 0 1 0 25.4 0a12.7 13.4 0 1 0 -25.4 0zM1513.7 91.8a12.7 13.4 0 1 0 25.4 0a12.7 13.4 0 1 0 -25.4 0zM1515.7 91.8a12.7 13.4 0 1 0 25.4 0a12.7 13.4 0 1 0 -25.4 0zM1517.7 91.8a12.7 13.4 0 1 0 25.4 0a12.7 13.4 0 1 0 -25.4 0zM1519.6 91.8a12.7 13.4 0 1 0 25.4 0a12.7 13.4 0 1 0 -25.4 0zM1521.5 91.8a12.7 13.4 0 1 0 25.4 0a12.7 13.4 0 1 0 -25.4 0zM1523.3 91.8a12.7 13.4 0 1 0 25.4 0a12.7 13.4 0 1 0 -25.4 0zM1525.2 91.8a12.7 13.4 0 1 0 25.4 0a12.7 13.4 0 1 0 -25.4 0zM1527 91.8a12.7 13.4 0 1 0 25.4 0a12.7 13.4 0 1 0 -25.4 0zM1528.8 91.8a12.7 13.4 0 1 0 25.4 0a12.7 13.4 0 1 0 -25.4 0zM1530.5 91.8a12.7 13.4 0 1 0 25.4 0a12.7 13.4 0 1 0 -25.4 0zM1532.3 91.8a12.7 13.4 0 1 0 25.4 0a12.7 13.4 0 1 0 -25.4 0zM1534 91.8a12.7 13.4 0 1 0 25.4 0a12.7 13.4 0 1 0 -25.4 0zM1535.7 91.8a12.7 13.4 0 1 0 25.4 0a12.7 13.4 0 1 0 -25.4 0zM1537.4 91.8a12.7 13.4 0 1 0 25.4 0a12.7 13.4 0 1 0 -25.4 0zM1539 91.8a12.7 13.4 0 1 0 25.4 0a12.7 13.4 0 1 0 -25.4 0zM1540.6 91.8a12.7 13.4 0 1 0 25.4 0a12.7 13.4 0 1 0 -25.4 0zM1542.3 91.8a12.7 13.4 0 1 0 25.4 0a12.7 13.4 0 1 0 -25.4 0zM1544.2 91.8a12.7 13.4 0 1 0 25.4 0a12.7 13.4 0 1 0 -25.4 0zM1546 91.8a12.7 13.4 0 1 0 25.4 0a12.7 13.4 0 1 0 -25.4 0zM1547.9 91.8a12.7 13.4 0 1 0 25.4 0a12.7 13.4 0 1 0 -25.4 0zM1549.7 91.8a12.7 13.4 0 1 0 25.4 0a12.7 13.4 0 1 0 -25.4 0zM1551.5 91.8a12.7 13.4 0 1 0 25.4 0a12.7 13.4 0 1 0 -25.4 0zM1553.3 91.8a12.7 13.4 0 1 0 25.4 0a12.7 13.4 0 1 0 -25.4 0zM1555 91.8a12.7 13.4 0 1 0 25.4 0a12.7 13.4 0 1 0 -25.4 0zM1556.8 91.8a12.7 13.4 0 1 0 25.4 0a12.7 13.4 0 1 0 -25.4 0zM1558.5 91.8a12.7 13.4 0 1 0 25.4 0a12.7 13.4 0 1 0 -25.4 0zM1560.1 91.8a12.7 13.4 0 1 0 25.4 0a12.7 13.4 0 1 0 -25.4 0zM1561.8 91.8a12.7 13.4 0 1 0 25.4 0a12.7 13.4 0 1 0 -25.4 0zM1563.4 91.8a12.7 13.4 0 1 0 25.4 0a12.7 13.4 0 1 0 -25.4 0zM1565 91.8a12.7 13.4 0 1 0 25.4 0a12.7 13.4 0 1 0 -25.4 0zM1566.9 91.8a12.7 13.4 0 1 0 25.4 0a12.7 13.4 0 1 0 -25.4 0zM1568.7 91.8a12.7 13.4 0 1 0 25.4 0a12.7 13.4 0 1 0 -25.4 0zM1570.6 91.8a12.7 13.4 0 1 0 25.4 0a12.7 13.4 0 1 0 -25.4 0zM1572.3 91.8a12.7 13.4 0 1 0 25.4 0a12.7 13.4 0 1 0 -25.4 0zM1574.1 91.8a12.7 13.4 0 1 0 25.4 0a12.7 13.4 0 1 0 -25.4 0zM1575.8 91.8a12.7 13.4 0 1 0 25.4 0a12.7 13.4 0 1 0 -25.4 0zM1577.5 91.8a12.7 13.4 0 1 0 25.4 0a12.7 13.4 0 1 0 -25.4 0zM1579.2 91.8a12.7 13.4 0 1 0 25.4 0a12.7 13.4 0 1 0 -25.4 0zM1580.9 91.8a12.7 13.4 0 1 0 25.4 0a12.7 13.4 0 1 0 -25.4 0zM1582.5 91.8a12.7 13.4 0 1 0 25.4 0a12.7 13.4 0 1 0 -25.4 0zM1584.2 91.8a12.7 13.4 0 1 0 25.4 0a12.7 13.4 0 1 0 -25.4 0zM1585.8 91.8a12.7 13.4 0 1 0 25.4 0a12.7 13.4 0 1 0 -25.4 0zM1587.6 91.8a12.7 13.4 0 1 0 25.4 0a12.7 13.4 0 1 0 -25.4 0zM1589.4 91.8a12.7 13.4 0 1 0 25.4 0a12.7 13.4 0 1 0 -25.4 0zM1591.1 91.8a12.7 13.4 0 1 0 25.4 0a12.7 13.4 0 1 0 -25.4 0zM1592.9 91.8a12.7 13.4 0 1 0 25.4 0a12.7 13.4 0 1 0 -25.4 0zM1594.6 91.8a12.7 13.4 0 1 0 25.4 0a12.7 13.4 0 1 0 -25.4 0zM1596.3 91.8a12.7 13.4 0 1 0 25.4 0a12.7 13.4 0 1 0 -25.4 0zM1597.9 91.8a12.7 13.4 0 1 0 25.4 0a12.7 13.4 0 1 0 -25.4 0zM1599.6 91.8a12.7 13.4 0 1 0 25.4 0a12.7 13.4 0 1 0 -25.4 0zM1601.2 91.8a12.7 13.4 0 1 0 25.4 0a12.7 13.4 0 1 0 -25.4 0zM1602.8 91.8a12.7 13.4 0 1 0 25.4 0a12.7 13.4 0 1 0 -25.4 0zM1604.6 91.8a12.7 13.4 0 1 0 25.4 0a12.7 13.4 0 1 0 -25.4 0zM1606.4 91.8a12.7 13.4 0 1 0 25.4 0a12.7 13.4 0 1 0 -25.4 0zM1608.1 91.8a12.7 13.4 0 1 0 25.4 0a12.7 13.4 0 1 0 -25.4 0zM1609.8 91.8a12.7 13.4 0 1 0 25.4 0a12.7 13.4 0 1 0 -25.4 0zM1611.5 91.8a12.7 13.4 0 1 0 25.4 0a12.7 13.4 0 1 0 -25.4 0zM1613.2 91.8a12.7 13.4 0 1 0 25.4 0a12.7 13.4 0 1 0 -25.4 0zM1614.8 91.8a12.7 13.4 0 1 0 25.4 0a12.7 13.4 0 1 0 -25.4 0zM1616.4 91.8a12.7 13.4 0 1 0 25.4 0a12.7 13.4 0 1 0 -25.4 0zM1618 91.8a12.7 13.4 0 1 0 25.4 0a12.7 13.4 0 1 0 -25.4 0zM1619.8 91.8a12.7 13.4 0 1 0 25.4 0a12.7 13.4 0 1 0 -25.4 0zM1621.5 91.8a12.7 13.4 0 1 0 25.4 0a12.7 13.4 0 1 0 -25.4 0zM1623.2 91.8a12.7 13.4 0 1 0 25.4 0a12.7 13.4 0 1 0 -25.4 0zM1624.9 91.8a12.7 13.4 0 1 0 25.4 0a12.7 13.4 0 1 0 -25.4 0zM1626.6 91.8a12.7 13.4 0 1 0 25.4 0a12.7 13.4 0 1 0 -25.4 0zM1628.2 91.8a12.7 13.4 0 1 0 25.4 0a12.7 13.4 0 1 0 -25.4 0zM1629.9 91.8a12.7 13.4 0 1 0 25.4 0a12.7 13.4 0 1 0 -25.4 0zM1631.5 91.8a12.7 13.4 0 1 0 25.4 0a12.7 13.4 0 1 0 -25.4 0zM1633.2 91.8a12.7 13.4 0 1 0 25.4 0a12.7 13.4 0 1 0 -25.4 0zM1634.9 91.8a12.7 13.4 0 1 0 25.4 0a12.7 13.4 0 1 0 -25.4 0zM1636.6 91.8a12.7 13.4 0 1 0 25.4 0a12.7 13.4 0 1 0 -25.4 0zM1638.3 91.8a12.7 13.4 0 1 0 25.4 0a12.7 13.4 0 1 0 -25.4 0zM1640 91.8a12.7 13.4 0 1 0 25.4 0a12.7 13.4 0 1 0 -25.4 0zM1641.6 91.8a12.7 13.4 0 1 0 25.4 0a12.7 13.4 0 1 0 -25.4 0zM1643.2 91.8a12.7 13.4 0 1 0 25.4 0a12.7 13.4 0 1 0 -25.4 0zM1644.9 91.8a12.7 13.4 0 1 0 25.4 0a12.7 13.4 0 1 0 -25.4 0zM1646.7 91.8a12.7 13.4 0 1 0 25.4 0a12.7 13.4 0 1 0 -25.4 0zM1648.3 91.8a12.7 13.4 0 1 0 25.4 0a12.7 13.4 0 1 0 -25.4 0zM1650 91.8a12.7 13.4 0 1 0 25.4 0a12.7 13.4 0 1 0 -25.4 0zM1651.7 91.8a12.7 13.4 0 1 0 25.4 0a12.7 13.4 0 1 0 -25.4 0zM1653.3 91.8a12.7 13.4 0 1 0 25.4 0a12.7 13.4 0 1 0 -25.4 0zM1654.9 91.8a12.7 13.4 0 1 0 25.4 0a12.7 13.4 0 1 0 -25.4 0zM1656.6 91.8a12.7 13.4 0 1 0 25.4 0a12.7 13.4 0 1 0 -25.4 0zM1658.3 91.8a12.7 13.4 0 1 0 25.4 0a12.7 13.4 0 1 0 -25.4 0zM1660 91.8a12.7 13.4 0 1 0 25.4 0a12.7 13.4 0 1 0 -25.4 0zM1661.6 91.8a12.7 13.4 0 1 0 25.4 0a12.7 13.4 0 1 0 -25.4 0zM1663.3 91.8a12.7 13.4 0 1 0 25.4 0a12.7 13.4 0 1 0 -25.4 0zM1664.9 91.8a12.7 13.4 0 1 0 25.4 0a12.7 13.4 0 1 0 -25.4 0zM1666.6 91.8a12.7 13.4 0 1 0 25.4 0a12.7 13.4 0 1 0 -25.4 0zM1668.3 91.8a12.7 13.4 0 1 0 25.4 0a12.7 13.4 0 1 0 -25.4 0zM1669.9 91.8a12.7 13.4 0 1 0 25.4 0a12.7 13.4 0 1 0 -25.4 0zM1671.6 91.8a12.7 13.4 0 1 0 25.4 0a12.7 13.4 0 1 0 -25.4 0zM1673.2 91.8a12.7 13.4 0 1 0 25.4 0a12.7 13.4 0 1 0 -25.4 0zM1674.8 91.8a12.7 13.4 0 1 0 25.4 0a12.7 13.4 0 1 0 -25.4 0zM1676.5 91.8a12.7 13.4 0 1 0 25.4 0a12.7 13.4 0 1 0 -25.4 0zM1678.2 91.8a12.7 13.4 0 1 0 25.4 0a12.7 13.4 0 1 0 -25.4 0zM1679.8 91.8a12.7 13.4 0 1 0 25.4 0a12.7 13.4 0 1 0 -25.4 0zM1681.5 91.8a12.7 13.4 0 1 0 25.4 0a12.7 13.4 0 1 0 -25.4 0zM1683.1 91.8a12.7 13.4 0 1 0 25.4 0a12.7 13.4 0 1 0 -25.4 0zM1684.8 91.8a12.7 13.4 0 1 0 25.4 0a12.7 13.4 0 1 0 -25.4 0zM1686.4 91.8a12.7 13.4 0 1 0 25.4 0a12.7 13.4 0 1 0 -25.4 0zM1688.1 91.8a12.7 13.4 0 1 0 25.4 0a12.7 13.4 0 1 0 -25.4 0zM1689.7 91.8a12.7 13.4 0 1 0 25.4 0a12.7 13.4 0 1 0 -25.4 0zM1691.3 91.8a12.7 13.4 0 1 0 25.4 0a12.7 13.4 0 1 0 -25.4 0zM1693 91.8a12.7 13.4 0 1 0 25.4 0a12.7 13.4 0 1 0 -25.4 0zM1699.5 91.8a12.7 13.4 0 1 0 25.4 0a12.7 13.4 0 1 0 -25.4 0zM1739.9 91.8a12.7 13.4 0 1 0 25.4 0a12.7 13.4 0 1 0 -25.4 0zM1770.3 91.8a12.7 13.4 0 1 0 25.4 0a12.7 13.4 0 1 0 -25.4 0zM1793.2 91.8a12.7 13.4 0 1 0 25.4 0a12.7 13.4 0 1 0 -25.4 0zM1816.1 91.8a12.7 13.4 0 1 0 25.4 0a12.7 13.4 0 1 0 -25.4 0zM1833.5 91.8a12.7 13.4 0 1 0 25.4 0a12.7 13.4 0 1 0 -25.4 0zM1848.7 91.8a12.7 13.4 0 1 0 25.4 0a12.7 13.4 0 1 0 -25.4 0zM1862.9 91.8a12.7 13.4 0 1 0 25.4 0a12.7 13.4 0 1 0 -25.4 0zM1875.9 91.8a12.7 13.4 0 1 0 25.4 0a12.7 13.4 0 1 0 -25.4 0zM1887.9 91.8a12.7 13.4 0 1 0 25.4 0a12.7 13.4 0 1 0 -25.4 0zM1898.8 91.8a12.7 13.4 0 1 0 25.4 0a12.7 13.4 0 1 0 -25.4 0z" fill="#008000"/>
</g>
<g id="axes">
<rect x="217.0" y="26.5" width="1773.0" height="1337.0" fill="none" stroke="#000" stroke-width="6.0"/>
<path d="M190 1363.5H217M190 1108.9H217M190 854.3H217M190 599.7H217M190 345.1H217M190 90.5H217M217 1363.5V1390.5M306 1363.5V1376M358 1363.5V1376M394.9 1363.5V1376M423.5 1363.5V1376M446.9 1363.5V1376M466.7 1363.5V1376M483.9 1363.5V1376M499 1363.5V1376M512.5 1363.5V1390.5M601.5 1363.5V1376M653.5 1363.5V1376M690.4 1363.5V1376M719 1363.5V1376M742.4 1363.5V1376M762.2 1363.5V1376M779.4 1363.5V1376M794.5 1363.5V1376M808 1363.5V1390.5M897 1363.5V1376M949 1363.5V1376M985.9 1363.5V1376M1014.5 1363.5V1376M1037.9 1363.5V1376M1057.7 1363.5V1376M1074.9 1363.5V1376M1090 1363.5V1376M1103.5 1363.5V1390.5M1192.5 1363.5V1376M1244.5 1363.5V1376M1281.4 1363.5V1376M1310 1363.5V1376M1333.4 1363.5V1376M1353.2 1363.5V1376M1370.4 1363.5V1376M1385.5 1363.5V1376M1399 1363.5V1390.5M1488 1363.5V1376M1540 1363.5V1376M1576.9 1363.5V1376M1605.5 1363.5V1376M1628.9 1363.5V1376M1648.7 1363.5V1376M1665.9 1363.5V1376M1681 1363.5V1376M1694.5 1363.5V1390.5M1783.5 1363.5V1376M1835.5 1363.5V1376M1872.4 1363.5V1376M1901 1363.5V1376M1924.4 1363.5V1376M1944.2 1363.5V1376M1961.4 1363.5V1376M1976.5 1363.5V1376M1990 1363.5V1390.5" stroke="#000" stroke-width="6.0" fill="none"/>
</g>
<g id="labels">
<text transform="translate(173.5 1383.1) scale(0.945 1)" text-anchor="end" class="a">0.0</text>
<text transform="translate(173.5 1128.5) scale(0.945 1)" text-anchor="end" class="a">0.2</text>
<text transform="translate(173.5 873.9) scale(0.945 1)" text-anchor="end" class="a">0.4</text>
<text transform="translate(173.5 619.3) scale(0.945 1)" text-anchor="end" class="a">0.6</text>
<text transform="translate(173.5 364.7) scale(0.945 1)" text-anchor="end" class="a">0.8</text>
<text transform="translate(173.5 110.1) scale(0.945 1)" text-anchor="end" class="a">1.0</text>
<text transform="translate(217.5 1454.3) scale(0.945 1)" text-anchor="middle" class="a">0.1</text>
<text transform="translate(513 1454.3) scale(0.945 1)" text-anchor="middle" class="a">1</text>
<text transform="translate(808.5 1454.3) scale(0.945 1)" text-anchor="middle" class="a">10</text>
<text transform="translate(1104 1454.3) scale(0.945 1)" text-anchor="middle" class="a">100</text>
<text transform="translate(1399.5 1454.3) scale(0.945 1)" text-anchor="middle" class="a">1000</text>
<text transform="translate(1695 1454.3) scale(0.945 1)" text-anchor="middle" class="a">10,000</text>
<text transform="translate(1990.5 1454.3) scale(0.945 1)" text-anchor="middle" class="a">100,000</text>
<text transform="translate(65.3 697) rotate(-90) scale(0.955 1)" text-anchor="middle" class="a">Normalized Recovery</text>
<text transform="translate(1021.5 1518.3) scale(0.94 1)" class="s"><tspan font-style="italic">t</tspan><tspan dy="16.2" dx="-2" font-size="41.5">D</tspan></text>
</g>
<g id="legend">
<path d="M301 104.9H433.5" stroke="#ff00ff" stroke-width="8" stroke-linecap="round"/>
<path d="M366.5 88.1l14 26.4h-28z" fill="#ff00ff"/>
<text transform="translate(449.5 126.3) scale(0.904 1)" text-anchor="start" class="s">1D-1F(No fractures)</text>
<path d="M301 177H433.5" stroke="#000000" stroke-width="8" stroke-linecap="round"/>
<path d="M356.1 166.4h21.8v21.8h-21.8z" fill="#000000"/>
<text transform="translate(449.5 198.4) scale(0.904 1)" text-anchor="start" class="s">1D-1F</text>
<path d="M301 249.1H433.5" stroke="#ff0000" stroke-width="8" stroke-linecap="round"/>
<path d="M356.1 238.5h21.8v21.8h-21.8z" fill="#ff0000"/>
<text transform="translate(449.5 270.5) scale(0.904 1)" text-anchor="start" class="s">1D-2F</text>
<path d="M301 321.2H433.5" stroke="#ff0080" stroke-width="8" stroke-linecap="round"/>
<path d="M366.5 304.4l14 26.4h-28z" fill="#ff0080"/>
<text transform="translate(449.5 342.6) scale(0.904 1)" text-anchor="start" class="s">2D-4F</text>
<path d="M301 393.3H433.5" stroke="#008000" stroke-width="8" stroke-linecap="round"/>
<path d="M353.6 393.9a12.7 13.4 0 1 0 25.4 0a12.7 13.4 0 1 0 -25.4 0z" fill="#008000"/>
<text transform="translate(449.5 414.7) scale(0.904 1)" text-anchor="start" class="s">3D-6F</text>
</g>
</svg>
</body></html>
